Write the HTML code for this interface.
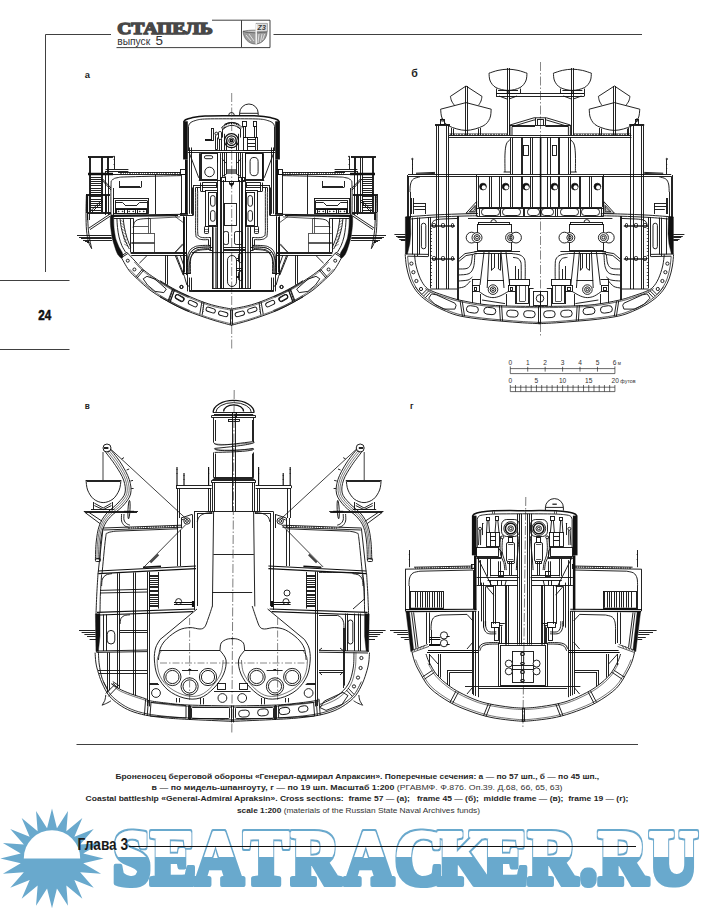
<!DOCTYPE html>
<html lang="ru">
<head>
<meta charset="utf-8">
<title>Стапель, выпуск 5 — Глава 3</title>
<style>
html,body{margin:0;padding:0;background:#fff;}
body{width:711px;height:911px;overflow:hidden;position:relative;font-family:'Liberation Sans','DejaVu Sans',sans-serif;}
svg{position:absolute;left:0;top:0;display:block;}
text{white-space:pre;}
</style>
</head>
<body>
<svg width="711" height="911" viewBox="0 0 711 911">
<rect width="711" height="911" fill="#fff"/>
<path d="M52 808.56L56.95 828.24L67.95 811L66.36 831.19L82.34 818.08L74.36 836.81L93.75 829.1L80.17 844.54L101.09 843L83.23 853.62L103.61 858.4L83.23 863.18L101.09 873.8L80.17 872.26L93.75 887.7L74.36 879.99L82.34 898.72L66.36 885.61L67.95 905.8L56.95 888.56L52 908.24L47.05 888.56L36.05 905.8L37.64 885.61L21.66 898.72L29.64 879.99L10.25 887.7L23.83 872.26L2.91 873.8L20.77 863.18L0.39 858.4L20.77 853.62L2.91 843L23.83 844.54L10.25 829.1L29.64 836.81L21.66 818.08L37.64 831.19L36.05 811L47.05 828.24Z" fill="#69a9cd"/>
<path d="M23.8 858.4A28.2 28.2 0 0 1 80.2 858.4Z" fill="#fff"/>
<defs><linearGradient id="wg" gradientUnits="userSpaceOnUse" x1="0" y1="828" x2="0" y2="887"><stop offset="0" stop-color="#fff"/><stop offset="0.49" stop-color="#fff"/><stop offset="0.49" stop-color="#69a9cd"/><stop offset="1" stop-color="#69a9cd"/></linearGradient></defs>
<filter id="wo" x="-2%" y="-20%" width="104%" height="140%"><feMorphology in="SourceAlpha" operator="dilate" radius="1.7 1.5" result="d"/><feFlood flood-color="#69a9cd"/><feComposite in2="d" operator="in" result="o"/><feMerge><feMergeNode in="o"/><feMergeNode in="SourceGraphic"/></feMerge></filter>
<text transform="scale(0.88 1)" x="128.51 171.42 220.96 277.04 330.91 391.7 448.8 497.51 548.92 600.22 659.02 680.17 737.72" y="882.6" font-family="'Liberation Serif','DejaVu Serif',serif" font-size="76.5" font-weight="bold" fill="url(#wg)" stroke="url(#wg)" stroke-width="4.2" stroke-linejoin="round" filter="url(#wo)">SEATRACKER.RU</text>
<g fill="none" stroke="#2a2a2a" stroke-width="0.9">
<path d="M45.5 272V34.5H111"/>
<path d="M273.5 34.5H642"/>
<path d="M0 280.5H69.5M0 349.5H69.5"/>
<path d="M76.5 744.5H638"/>
<path d="M212 20.2H241.5V47.6H270V20.2H241.5M116.5 47.6H241.5"/>
<path d="M129 846.5H636" stroke="#111" stroke-width="1"/>
</g>
<g stroke="#4a4a4a" stroke-width="0.6" fill="#9c9c9c"><path d="M243.1 31.3C243.4 38.5 248.5 44 255.4 44C262 44 266.8 38.8 267.1 31.5C262 33.2 249 33 243.1 31.3Z"/><path d="M243.1 31.3C249 29.6 262 30 267.1 31.5C262 33.2 249 33 243.1 31.3Z" fill="#c9c9c9"/><path d="M256 23.4L267.4 23.4L267.4 31.4L256 31.6Z" fill="#ddd" stroke="#777"/><path d="M256.2 24V44" stroke="#fff" stroke-width="1.3"/><path d="M246 35l5 6M249 34l5 7M259 34l-1 9M262 34l-1.5 8M264.6 34l-2 6" fill="none" stroke="#e6e6e6" stroke-width="0.9"/></g>
<text x="261.7" y="30.2" font-family="'Liberation Sans',sans-serif" font-size="7" font-weight="bold" font-style="italic" fill="#3a3a3a" text-anchor="middle">Z3</text>
<g fill="none" stroke="#2a2a2a" stroke-width="0.7">
<path d="M510.3 368.6H614.9M510.3 373.6H614.9"/>
<path d="M510.3 366.4V373.6M527.73 366.8V371.6M545.17 366.8V371.6M562.6 366.8V371.6M580.03 366.8V371.6M597.47 366.8V371.6M614.9 366.4V373.6"/>
<path d="M510.3 387.2H614.9M510.3 391.6H614.9"/>
<path d="M510.3 385V391.6M515.53 385V391.6M520.76 385V391.6M525.99 385V391.6M531.22 385V391.6M536.45 385V391.6M541.68 385V391.6M546.91 385V391.6M552.14 385V391.6M557.37 385V391.6M562.6 385V391.6M567.83 385V391.6M573.06 385V391.6M578.29 385V391.6M583.52 385V391.6M588.75 385V391.6M593.98 385V391.6M599.21 385V391.6M604.44 385V391.6M609.67 385V391.6M614.9 385V391.6"/>
</g>
<g font-family="'Liberation Sans','DejaVu Sans',sans-serif" font-size="6.6" fill="#333" text-anchor="middle">
<text x="510.3" y="364.6">0</text>
<text x="527.73" y="364.6">1</text>
<text x="545.17" y="364.6">2</text>
<text x="562.6" y="364.6">3</text>
<text x="580.03" y="364.6">4</text>
<text x="597.47" y="364.6">5</text>
<text x="612.7" y="364.6" text-anchor="start">6<tspan font-size="4.6"> м</tspan></text>
<text x="510.3" y="382.8">0</text>
<text x="536.45" y="382.8">5</text>
<text x="562.6" y="382.8">10</text>
<text x="588.75" y="382.8">15</text>
<text x="611.5" y="382.8" text-anchor="start">20<tspan font-size="5.4"> футов</tspan></text>
</g>
<!-- draw_a -->
<g fill="none" stroke="#101010" stroke-width="0.92" stroke-linecap="butt" stroke-linejoin="miter">
<path d="M231.7 93V350" stroke-width="0.5" stroke-dasharray="9 2 1.5 2"/>
<rect x="183.13" y="121.28" width="4.63" height="38.17" fill="#111" stroke="none"/>
<rect x="275.24" y="121.28" width="4.63" height="38.17" fill="#111" stroke="none"/>
<rect x="185.01" y="159.45" width="2.75" height="54.44" fill="#111" stroke="none"/>
<rect x="275.24" y="159.45" width="2.75" height="54.44" fill="#111" stroke="none"/>
<path d="M183.75 121.9C184.07 121.55 184.38 120.44 185.63 119.77C186.88 119.11 188.03 118.54 191.26 117.9C194.5 117.25 198.31 116.27 205.03 115.89C211.75 115.52 227.14 115.69 231.56 115.64" stroke-width="1.5" stroke="#111"/>
<path d="M279.25 121.9C278.93 121.55 278.62 120.44 277.37 119.77C276.12 119.11 274.97 118.54 271.74 117.9C268.5 117.25 264.69 116.27 257.97 115.89C251.25 115.52 235.86 115.69 231.44 115.64" stroke-width="1.5" stroke="#111"/>
<path d="M188.26 126.91C188.55 126.28 188.89 124.2 190.01 123.15C191.14 122.11 192.62 121.34 195.02 120.65C197.42 119.96 198.31 119.34 204.41 119.02C210.5 118.71 227.04 118.82 231.56 118.77"/>
<path d="M274.74 126.91C274.45 126.28 274.11 124.2 272.99 123.15C271.86 122.11 270.38 121.34 267.98 120.65C265.58 119.96 264.69 119.34 258.59 119.02C252.5 118.71 235.96 118.82 231.44 118.77"/>
<path d="M188.51 126.91 188.51 150.69"/>
<path d="M274.49 126.91 274.49 150.69"/>
<path d="M228.7 115.3a2.8 2.8 0 0 1 5.6 0"/>
<path d="M239.6 115.3v-2a9.3 9.3 0 0 1 18.6 0v2M239.6 113.3h18.6"/>
<path d="M187.76 150.5L275.12 150.5M187.76 152.5L275.12 152.5"/>
<circle cx="231.44" cy="140.68" r="7.01" stroke-width="1.15" fill="#fff"/>
<circle cx="231.44" cy="140.68" r="4.76" stroke-width="1.38"/>
<circle cx="231.44" cy="140.68" r="2.75"/>
<circle cx="231.44" cy="140.68" r="1.13" stroke-width="1.38"/>
<path d="M221.4 127.8A13.4 13.4 0 0 1 242.4 127.8M223.2 129.4A11.4 11.4 0 0 1 240.6 129.4M224.4 124.4A15 15 0 0 1 239 124.4" />
<path d="M222 128.5l1-1.2M224 126.6l.9-1.3M226.3 125.2l.7-1.4M228.8 124.3l.4-1.5M231.5 124v-1.5M234.2 124.3l-.4-1.5M236.7 125.2l-.7-1.4M239 126.6l-.9-1.3M241 128.5l-1-1.2" stroke-width="1"/>
<path d="M224.5 133.79L224.5 150.69M226.5 141.3L226.5 150.69M236.5 141.3L236.5 150.69M238.5 133.79L238.5 150.69M222.5 128.79L222.5 137.55M240.5 128.79L240.5 137.55M222.55 128.79L225.68 126.91M240.33 128.79L237.32 126.91"/>
<rect x="211.5" y="128.5" width="2" height="12"/>
<rect x="205.5" y="139.5" width="6" height="1" fill="#333"/>
<circle cx="216.3" cy="133.54" r="1.38"/>
<rect x="218.5" y="131.5" width="3" height="8" rx="1.25"/>
<path d="M215.5 135.29L215.5 149.44M217.5 137.55L217.5 149.44M215.29 149.5L217.55 149.5M219.5 139.05L219.5 150.69M221.5 139.05L221.5 150.69"/>
<rect x="242.5" y="121.5" width="4" height="5"/>
<rect x="243.5" y="126.5" width="2" height="11"/>
<rect x="253.5" y="121.5" width="3" height="5"/>
<rect x="254.5" y="126.5" width="2" height="11"/>
<rect x="243.5" y="137.5" width="14" height="13"/>
<path d="M247.58 139.5L255.09 139.5M247.58 143.5L255.09 143.5M247.58 146.5L255.09 146.5M247.5 137.55L247.5 150.69M255.5 137.55L255.5 150.69"/>
<path d="M189.39 153.19L198.77 177.85M199.5 153.19L199.5 180.1M200.5 153.19L200.5 180.1"/>
<path d="M273.61 153.19L264.23 177.85M263.5 153.19L263.5 180.1M262.5 153.19L262.5 180.1"/>
<rect x="201.5" y="153.5" width="16" height="26"/>
<rect x="204.41" y="155.69" width="8.26" height="3" rx="1.5"/>
<circle cx="209.54" cy="171.96" r="4.76"/>
<rect x="245.5" y="153.5" width="17" height="26"/>
<rect x="250.09" y="157.45" width="8.01" height="18.27" rx="4.01"/>
<path d="M217.5 153.19L217.5 162.58M220.5 153.19L220.5 180.1M245.5 153.19L245.5 162.58M242.5 153.19L242.5 180.1"/>
<path d="M222.5 152.57L222.5 176.6M224.5 152.57L224.5 176.6M226.5 152.57L226.5 174.09M240.5 152.57L240.5 176.6M238.5 152.57L238.5 176.6M236.5 152.57L236.5 174.09M222.05 158.82L226.06 163.2M240.95 158.82L236.95 163.2M222.05 176.6L226.43 174.09M240.95 176.6L236.57 174.09"/>
<path d="M226.43 169.5L236.57 169.5M226.43 170.5L236.57 170.5M226.43 171.5L236.57 171.5M226.43 172.5L236.57 172.5M226.43 173.5L236.57 173.5" stroke-width="0.57"/>
<rect x="220.5" y="177.5" width="5" height="4"/>
<rect x="238.5" y="177.5" width="6" height="4"/>
<path d="M225.5 176.35L225.5 181.98M238.5 176.35L238.5 181.98M225.81 181.5L238.57 181.5M229.5 181.98L229.5 184.11M233.5 181.98L233.5 184.11M229.44 184.5L233.57 184.5M230.69 184.11L231.56 186.36M232.44 184.11L231.56 186.36"/>
<path d="M198.77 180.5L220.05 180.5"/>
<path d="M264.23 180.5L242.95 180.5"/>
<path d="M189.5 147.46L189.5 213.79M191.5 147.46L191.5 213.79M192.5 187.51L192.5 215.04M193.5 185.01L193.5 215.04"/>
<path d="M273.5 147.46L273.5 213.79M271.5 147.46L271.5 213.79M270.5 187.51L270.5 215.04M269.5 185.01L269.5 215.04"/>
<path d="M180 213.5L187.76 213.5M180 215.5L193.52 215.5"/>
<path d="M283 213.5L275.24 213.5M283 215.5L269.48 215.5"/>
<path d="M195.64 192.52C195.64 198.36 195.62 207.91 195.64 217.55C195.67 227.18 195.33 229.09 195.77 233.82C196.21 238.55 196.09 236.48 197.52 237.82C198.95 239.17 199.33 239.17 201.9 239.57C204.47 239.98 206.99 239.57 208.54 239.57"/>
<path d="M267.36 192.52C267.36 198.36 267.38 207.91 267.36 217.55C267.33 227.18 267.67 229.09 267.23 233.82C266.79 238.55 266.91 236.48 265.48 237.82C264.05 239.17 263.67 239.17 261.1 239.57C258.53 239.98 256.01 239.57 254.46 239.57"/>
<path d="M197.65 191.01C197.65 197.2 197.62 207.71 197.65 217.55C197.68 227.39 197.45 228.87 197.77 233.19C198.09 237.51 197.91 235.05 199.02 236.07C200.13 237.09 200.31 237.22 202.53 237.57C204.75 237.92 207.13 237.57 208.54 237.57"/>
<path d="M265.35 191.01C265.35 197.2 265.38 207.71 265.35 217.55C265.32 227.39 265.55 228.87 265.23 233.19C264.91 237.51 265.09 235.05 263.98 236.07C262.87 237.09 262.69 237.22 260.47 237.57C258.25 237.92 255.87 237.57 254.46 237.57"/>
<path d="M195.5 192.52L195.5 187.51M197.5 191.01L197.5 187.51M193.52 185.5L217.55 185.5M195.64 187.5L200.65 187.5M200.5 182.5L200.5 191.26M202.5 182.5L202.5 191.26M200.65 191.5L205.66 191.5"/>
<path d="M267.5 192.52L267.5 187.51M265.5 191.01L265.5 187.51M269.48 185.5L245.45 185.5M267.36 187.5L262.35 187.5M262.5 182.5L262.5 191.26M260.5 182.5L260.5 191.26M262.35 191.5L257.34 191.5"/>
<path d="M202.28 182.5L216.92 182.5M202.28 187.5L216.92 187.5M216.5 182.5L216.5 187.76"/>
<path d="M260.72 182.5L246.08 182.5M260.72 187.5L246.08 187.5M246.5 182.5L246.5 187.76"/>
<rect x="205.5" y="190.5" width="12" height="36"/>
<rect x="245.5" y="190.5" width="12" height="36"/>
<rect x="208.5" y="192.5" width="8" height="33"/>
<rect x="246.5" y="192.5" width="8" height="33"/>
<rect x="210.54" y="195.52" width="4.51" height="10.76" rx="2.25"/>
<rect x="247.96" y="195.52" width="4.51" height="10.76" rx="2.25"/>
<rect x="210.54" y="210.54" width="4.51" height="10.76" rx="2.25"/>
<rect x="247.96" y="210.54" width="4.51" height="10.76" rx="2.25"/>
<rect x="204.5" y="226.5" width="4" height="7" rx="0.75"/>
<rect x="254.5" y="226.5" width="4" height="7" rx="0.75"/>
<path d="M204.41 229.5L208.29 229.5M204.41 231.5L208.29 231.5" stroke-width="0.57"/>
<path d="M258.59 229.5L254.71 229.5M258.59 231.5L254.71 231.5" stroke-width="0.57"/>
<path d="M208.54 237.5L210.66 237.5M208.5 239.57L208.5 245.08M210.5 237.57L210.5 250.09M208.54 245.5L210.66 245.5M209.41 250.5L212.79 250.5M209.41 247.5L212.79 247.5"/>
<path d="M254.46 237.5L252.34 237.5M254.5 239.57L254.5 245.08M252.5 237.57L252.5 250.09M254.46 245.5L252.34 245.5M253.59 250.5L250.21 250.5M253.59 247.5L250.21 247.5"/>
<path d="M217.5 180L217.5 288.89M220.5 177.5L220.5 288.89M221.5 177.5L221.5 288.89M223.5 180L223.5 288.89"/>
<path d="M245.5 180L245.5 288.89M242.5 177.5L242.5 288.89M241.5 177.5L241.5 288.89M239.5 180L239.5 288.89"/>
<path d="M212.5 227.31L212.5 288.39M213.5 227.31L213.5 288.39M215.5 227.31L215.5 288.39M216.5 227.31L216.5 288.39" stroke-width="0.57"/>
<path d="M247.5 227.31L247.5 288.39M248.5 227.31L248.5 288.39M250.5 227.31L250.5 288.39" stroke-width="0.57"/>
<path d="M212.5 226.93L212.5 288.89M250.5 226.93L250.5 288.89M212.29 288.5L250.84 288.5"/>
<rect x="224.5" y="203.5" width="12" height="22"/>
<rect x="223.5" y="231.5" width="5" height="13" rx="1.75"/>
<rect x="234.5" y="231.5" width="8" height="13" rx="1.75"/>
<path d="M223.8 247.5L245.33 247.5M223.8 249.5L245.33 249.5M223.8 250.5L245.33 250.5"/>
<path d="M191.89 252.59 271.11 252.59"/>
<path d="M192.52 290.89 271.11 290.89"/>
<path d="M229.44 181.5L233.82 181.5M229.44 183.5L233.82 183.5M230.69 183.13L231.56 186.26M232.44 183.13L231.56 186.26"/>
<rect x="227.5" y="255.5" width="9" height="31" rx="4.63"/>
<rect x="238.5" y="253.5" width="4" height="9" rx="1.75"/>
<rect x="238.5" y="271.5" width="4" height="9" rx="1.75"/>
<path d="M236.45 258.5L238.95 258.5M236.45 260.5L238.95 260.5M236.45 268.5L242.58 268.5M236.45 270.5L242.58 270.5M236.45 276.5L238.95 276.5M236.45 277.5L238.95 277.5"/>
<path d="M187.76 273.87C187.7 270.65 187.22 265.21 187.51 260.1C187.8 254.99 187.55 254.94 189.01 251.96C190.47 248.99 191.2 248.79 193.77 247.33C196.34 245.87 196.37 246.17 200.03 245.71C203.68 245.24 207.22 245.42 209.41 245.33"/>
<path d="M275.24 273.87C275.3 270.65 275.78 265.21 275.49 260.1C275.2 254.99 275.45 254.94 273.99 251.96C272.53 248.99 271.8 248.79 269.23 247.33C266.66 245.87 266.63 246.17 262.97 245.71C259.32 245.24 255.78 245.42 253.59 245.33"/>
<path d="M190.51 273.87C190.51 270.95 190.22 265.73 190.51 261.35C190.81 256.97 190.6 257.58 191.76 255.09C192.93 252.61 193.3 252.12 195.52 250.71C197.74 249.31 198.04 249.58 201.28 249.09C204.52 248.59 207.51 248.7 209.41 248.59"/>
<path d="M272.49 273.87C272.49 270.95 272.78 265.73 272.49 261.35C272.19 256.97 272.4 257.58 271.24 255.09C270.07 252.61 269.7 252.12 267.48 250.71C265.26 249.31 264.96 249.58 261.72 249.09C258.48 248.59 255.49 248.7 253.59 248.59"/>
<path d="M189.01 273.87C188.98 270.8 188.56 265.46 188.89 260.73C189.21 255.99 189.04 256.34 190.39 253.59C191.73 250.85 192.25 250.42 194.64 248.96C197.04 247.5 197.2 247.8 200.65 247.33C204.1 246.87 207.37 247.05 209.41 246.96" stroke-width="0.57"/>
<path d="M273.99 273.87C274.02 270.8 274.44 265.46 274.11 260.73C273.79 255.99 273.96 256.34 272.61 253.59C271.27 250.85 270.75 250.42 268.36 248.96C265.96 247.5 265.8 247.8 262.35 247.33C258.9 246.87 255.63 247.05 253.59 246.96" stroke-width="0.57"/>
<path d="M185.63 273.5L190.51 273.5M187.5 273.87L187.5 291.39"/>
<path d="M277.37 273.5L272.49 273.5M275.5 273.87L275.5 291.39"/>
<path d="M105.6 169.5L128.4 169.5M105.6 171.5L128.4 171.5M118 172.5L181 172.5M110 174.5L185 174.5M90 173.5L110 173.5"/>
<path d="M357.4 169.5L334.6 169.5M357.4 171.5L334.6 171.5M345 172.5L282 172.5M353 174.5L278 174.5M373 173.5L353 173.5"/>
<path d="M120.5 172.4L120.5 174.2M121.5 172.4L121.5 174.2M123.5 172.4L123.5 174.2M125.5 172.4L125.5 174.2M127.5 172.4L127.5 174.2M129.5 172.4L129.5 174.2M130.5 172.4L130.5 174.2M132.5 172.4L132.5 174.2M134.5 172.4L134.5 174.2M136.5 172.4L136.5 174.2M138.5 172.4L138.5 174.2M139.5 172.4L139.5 174.2M141.5 172.4L141.5 174.2M143.5 172.4L143.5 174.2M145.5 172.4L145.5 174.2M147.5 172.4L147.5 174.2M148.5 172.4L148.5 174.2M150.5 172.4L150.5 174.2M152.5 172.4L152.5 174.2M154.5 172.4L154.5 174.2M156.5 172.4L156.5 174.2M157.5 172.4L157.5 174.2M159.5 172.4L159.5 174.2M161.5 172.4L161.5 174.2M163.5 172.4L163.5 174.2M165.5 172.4L165.5 174.2M166.5 172.4L166.5 174.2M168.5 172.4L168.5 174.2M170.5 172.4L170.5 174.2M172.5 172.4L172.5 174.2M174.5 172.4L174.5 174.2M175.5 172.4L175.5 174.2M177.5 172.4L177.5 174.2M179.5 172.4L179.5 174.2" stroke-width="0.57"/>
<path d="M343.5 172.4L343.5 174.2M341.5 172.4L341.5 174.2M339.5 172.4L339.5 174.2M337.5 172.4L337.5 174.2M335.5 172.4L335.5 174.2M334.5 172.4L334.5 174.2M332.5 172.4L332.5 174.2M330.5 172.4L330.5 174.2M328.5 172.4L328.5 174.2M326.5 172.4L326.5 174.2M325.5 172.4L325.5 174.2M323.5 172.4L323.5 174.2M321.5 172.4L321.5 174.2M319.5 172.4L319.5 174.2M317.5 172.4L317.5 174.2M316.5 172.4L316.5 174.2M314.5 172.4L314.5 174.2M312.5 172.4L312.5 174.2M310.5 172.4L310.5 174.2M308.5 172.4L308.5 174.2M307.5 172.4L307.5 174.2M305.5 172.4L305.5 174.2M303.5 172.4L303.5 174.2M301.5 172.4L301.5 174.2M299.5 172.4L299.5 174.2M298.5 172.4L298.5 174.2M296.5 172.4L296.5 174.2M294.5 172.4L294.5 174.2M292.5 172.4L292.5 174.2M290.5 172.4L290.5 174.2M289.5 172.4L289.5 174.2M287.5 172.4L287.5 174.2M285.5 172.4L285.5 174.2M283.5 172.4L283.5 174.2" stroke-width="0.57"/>
<rect x="180.5" y="169.5" width="5" height="5"/>
<rect x="278.5" y="169.5" width="4" height="5"/>
<path d="M111 215C111 209.2 110.72 193 111 186C111.28 179 111 181.68 112.4 180C113.8 178.32 114.48 178.24 118 177.6C121.52 176.96 117.4 177.2 130 176.8C142.6 176.4 170.8 175.84 181 175.6"/>
<path d="M352 215C352 209.2 352.28 193 352 186C351.72 179 352 181.68 350.6 180C349.2 178.32 348.52 178.24 345 177.6C341.48 176.96 345.6 177.2 333 176.8C320.4 176.4 292.2 175.84 282 175.6"/>
<path d="M113.5 215L113.5 188"/>
<path d="M350.5 215L350.5 188"/>
<path d="M105.5 171L105.5 215M108.5 174.2L108.5 215M155.5 174.2L155.5 214.4M181.5 174.2L181.5 214.4"/>
<path d="M357.5 171L357.5 215M354.5 174.2L354.5 215M307.5 174.2L307.5 214.4M282.5 174.2L282.5 214.4"/>
<path d="M119.5 181L119.5 187.4M119 187.5L141 187.5M141.5 181L141.5 187.4M120 186.5L140 186.5"/>
<path d="M344.5 181L344.5 187.4M344 187.5L322 187.5M322.5 181L322.5 187.4M343 186.5L323 186.5"/>
<rect x="113.5" y="198.5" width="35" height="15"/>
<rect x="314.5" y="198.5" width="35" height="15"/>
<path d="M115.2 200.5L147.2 200.5M115.5 200.6L115.5 213.6M147.5 200.6L147.5 213.6M115.2 202.5L122.4 202.5M122.4 202.4L125 205M125 205.5L137 205.5M137 205L139.6 202.4M139.6 202.5L147.2 202.5M115.2 208.5L147.2 208.5M115.2 209.5L147.2 209.5"/>
<path d="M347.8 200.5L315.8 200.5M347.5 200.6L347.5 213.6M315.5 200.6L315.5 213.6M347.8 202.5L340.6 202.5M340.6 202.4L338 205M338 205.5L326 205.5M326 205L323.4 202.4M323.4 202.5L315.8 202.5M347.8 208.5L315.8 208.5M347.8 209.5L315.8 209.5"/>
<rect x="116.5" y="209.5" width="8" height="4"/>
<rect x="338.5" y="209.5" width="8" height="4"/>
<circle cx="118.6" cy="211.4" r="0.4" fill="#111"/>
<circle cx="344.4" cy="211.4" r="0.4" fill="#111"/>
<circle cx="122.6" cy="211.4" r="0.4" fill="#111"/>
<circle cx="340.4" cy="211.4" r="0.4" fill="#111"/>
<rect x="127.5" y="209.5" width="8" height="4"/>
<rect x="327.5" y="209.5" width="9" height="4"/>
<circle cx="129.2" cy="211.4" r="0.4" fill="#111"/>
<circle cx="333.8" cy="211.4" r="0.4" fill="#111"/>
<circle cx="133.2" cy="211.4" r="0.4" fill="#111"/>
<circle cx="329.8" cy="211.4" r="0.4" fill="#111"/>
<rect x="137.5" y="209.5" width="9" height="4"/>
<rect x="317.5" y="209.5" width="8" height="4"/>
<circle cx="139.8" cy="211.4" r="0.4" fill="#111"/>
<circle cx="323.2" cy="211.4" r="0.4" fill="#111"/>
<circle cx="143.8" cy="211.4" r="0.4" fill="#111"/>
<circle cx="319.2" cy="211.4" r="0.4" fill="#111"/>
<path d="M111 215.2L188 214.2M111 216.4L178 215.6" stroke-width="1.15"/>
<path d="M352 215.2L275 214.2M352 216.4L285 215.6" stroke-width="1.15"/>
<rect x="88.5" y="156.5" width="24" height="1"/>
<rect x="351.5" y="156.5" width="24" height="1"/>
<path d="M89.5 157.4L89.5 212M90.5 157.4L90.5 212M101.5 157.4L101.5 212M102.5 157.4L102.5 212M107.5 157.4L107.5 174.4M108.5 157.4L108.5 174.4"/>
<path d="M373.5 157.4L373.5 212M372.5 157.4L372.5 212M362.5 157.4L362.5 212M360.5 157.4L360.5 212M355.5 157.4L355.5 174.4M354.5 157.4L354.5 174.4"/>
<path d="M88 173.5L113 173.5M88 174.5L113 174.5" stroke-width="1.26"/>
<path d="M375 173.5L350 173.5M375 174.5L350 174.5" stroke-width="1.26"/>
<path d="M90.6 177.5L101 177.5M90.6 179.5L101 179.5M90.6 181.5L101 181.5M90.6 183.5L101 183.5M90.6 185.5L101 185.5M90.6 188.5L101 188.5M90.6 190.5L101 190.5M90.6 192.5L101 192.5M90.6 194.5L101 194.5M90.6 196.5L101 196.5M90.6 199.5L101 199.5M90.6 201.5L101 201.5M90.6 203.5L101 203.5M90.6 205.5L101 205.5M90.6 207.5L101 207.5M90.6 210.5L101 210.5"/>
<path d="M372.4 177.5L362 177.5M372.4 179.5L362 179.5M372.4 181.5L362 181.5M372.4 183.5L362 183.5M372.4 185.5L362 185.5M372.4 188.5L362 188.5M372.4 190.5L362 190.5M372.4 192.5L362 192.5M372.4 194.5L362 194.5M372.4 196.5L362 196.5M372.4 199.5L362 199.5M372.4 201.5L362 201.5M372.4 203.5L362 203.5M372.4 205.5L362 205.5M372.4 207.5L362 207.5M372.4 210.5L362 210.5"/>
<path d="M101 179L111 190M102.6 179L111 188M86 194.5L110 194.5M86 195.5L110 195.5M86.5 194L86.5 212M87.5 195.6L87.5 212M105.5 195.6L105.5 212M106.5 195.6L106.5 212M90.6 211L102 200M92 212L103 201M86 212.5L111 212.5M87.6 213.5L111 213.5"/>
<path d="M362 179L352 190M360.4 179L352 188M377 194.5L353 194.5M377 195.5L353 195.5M377.5 194L377.5 212M375.5 195.6L375.5 212M358.5 195.6L358.5 212M356.5 195.6L356.5 212M372.4 211L361 200M371 212L360 201M377 212.5L352 212.5M375.4 213.5L352 213.5"/>
<path d="M114.5 156.6L114.5 169M113.6 159.5L114.4 159.5M113.6 164.5L114.4 164.5"/>
<path d="M349.5 156.6L349.5 169M349.4 159.5L348.6 159.5M349.4 164.5L348.6 164.5"/>
<circle cx="114" cy="156.6" r="0.5"/>
<circle cx="349" cy="156.6" r="0.5"/>
<path d="M87.5 213.4L87.5 220M89.5 213.4L89.5 220M111 213.4L89 228M111 215.6L90 229.6"/>
<path d="M375.5 213.4L375.5 220M374.5 213.4L374.5 220M352 213.4L374 228M352 215.6L373 229.6"/>
<path d="M86.39 195.06C86.33 198.19 85.99 208 86.01 213.84C86.03 219.68 86.1 225.41 86.51 230.11C86.93 234.8 87.66 238.91 88.52 242C89.37 245.08 91.12 247.52 91.65 248.63"/>
<path d="M376.61 195.06C376.67 198.19 377.01 208 376.99 213.84C376.97 219.68 376.9 225.41 376.49 230.11C376.07 234.8 375.34 238.91 374.48 242C373.63 245.08 371.88 247.52 371.35 248.63"/>
<path d="M87.64 195.06C87.64 198.4 87.52 209.25 87.64 215.09C87.77 220.93 88.02 225.93 88.39 230.11C88.77 234.28 89.35 237.03 89.89 240.12C90.44 243.21 91.35 247.21 91.65 248.63"/>
<path d="M375.36 195.06C375.36 198.4 375.48 209.25 375.36 215.09C375.23 220.93 374.98 225.93 374.61 230.11C374.23 234.28 373.65 237.03 373.11 240.12C372.56 243.21 371.65 247.21 371.35 248.63"/>
<path d="M77 235.5L111.6 235.5M79 237.5L111.6 237.5M81 238.5L111.8 238.5M83 240.5L112 240.5"/>
<path d="M386 235.5L351.4 235.5M384 237.5L351.4 237.5M382 238.5L351.2 238.5M380 240.5L351 240.5"/>
<path d="M85 241.5L89 241.5M87 242.5L89.6 242.5"/>
<path d="M378 241.5L374 241.5M376 242.5L373.4 242.5"/>
<path d="M110.26 216.51C110.46 220.12 110.01 222.59 111.01 230.03C112.02 237.47 111.78 237.35 114.02 244.42C116.25 251.5 117.06 253.86 119.4 256.56C121.74 259.27 123.21 257.9 122.78 254.56C122.34 251.22 119.94 249.92 117.77 244.05C115.6 238.17 115.74 239.88 114.64 232.53C113.54 225.19 113.91 220.79 113.64 216.51Z" stroke-width="0.46" fill="#111" stroke="#111"/>
<path d="M352.74 216.51C352.54 220.12 352.99 222.59 351.99 230.03C350.98 237.47 351.22 237.35 348.98 244.42C346.75 251.5 345.94 253.86 343.6 256.56C341.26 259.27 339.79 257.9 340.22 254.56C340.66 251.22 343.06 249.92 345.23 244.05C347.4 238.17 347.26 239.88 348.36 232.53C349.46 225.19 349.09 220.79 349.36 216.51Z" stroke-width="0.46" fill="#111" stroke="#111"/>
<path d="M120.65 256.31C122.01 258.61 125.97 266.28 128.79 270.08C131.6 273.88 134 275.76 137.55 279.09C141.09 282.43 145.89 286.91 150.06 290.11C154.23 293.3 158.41 295.74 162.58 298.24C166.75 300.74 170.69 302.93 175.09 305.13C179.5 307.32 186.67 310.34 188.99 311.38"/>
<path d="M342.35 256.31C340.99 258.61 337.03 266.28 334.21 270.08C331.4 273.88 329 275.76 325.45 279.09C321.91 282.43 317.11 286.91 312.94 290.11C308.77 293.3 304.59 295.74 300.42 298.24C296.25 300.74 292.31 302.93 287.91 305.13C283.5 307.32 276.33 310.34 274.01 311.38"/>
<path d="M129.66 269.21C131.12 270.71 134.88 274.88 138.42 278.22C141.97 281.55 146.77 286.04 150.94 289.23C155.11 292.42 159.28 294.86 163.45 297.37C167.63 299.87 171.57 302.06 175.97 304.25C180.37 306.44 187.55 309.46 189.86 310.51" stroke-width="0.57"/>
<path d="M333.34 269.21C331.88 270.71 328.12 274.88 324.58 278.22C321.03 281.55 316.23 286.04 312.06 289.23C307.89 292.42 303.72 294.86 299.55 297.37C295.37 299.87 291.43 302.06 287.03 304.25C282.63 306.44 275.45 309.46 273.14 310.51" stroke-width="0.57"/>
<path d="M126.91 252.31C128.26 253.77 132.23 258.11 135.04 261.07C137.86 264.03 140.26 267.08 143.8 270.08C147.35 273.09 151.52 275.96 156.32 279.09C161.12 282.22 167.15 285.93 172.59 288.85C178.04 291.78 186.25 295.32 188.99 296.61"/>
<path d="M336.09 252.31C334.74 253.77 330.77 258.11 327.96 261.07C325.14 264.03 322.74 267.08 319.2 270.08C315.65 273.09 311.48 275.96 306.68 279.09C301.88 282.22 295.85 285.93 290.41 288.85C284.96 291.78 276.75 295.32 274.01 296.61"/>
<path d="M134.29 261.95C135.75 263.45 139.51 267.95 143.05 270.96C146.6 273.96 150.77 276.84 155.57 279.97C160.37 283.1 166.4 286.81 171.84 289.73C177.28 292.65 185.5 296.2 188.24 297.49" stroke-width="0.57"/>
<path d="M328.71 261.95C327.25 263.45 323.49 267.95 319.95 270.96C316.4 273.96 312.23 276.84 307.43 279.97C302.63 283.1 296.6 286.81 291.16 289.73C285.72 292.65 277.5 296.2 274.76 297.49" stroke-width="0.57"/>
<path d="M120.65 256.31L126.91 252.31M121.53 257.57L127.78 253.56M143.8 270.08L136.92 278.22M142.55 269.08L135.67 277.09M172.59 288.85L168.21 300.37M174.47 289.86L170.09 301.12"/>
<path d="M342.35 256.31L336.09 252.31M341.47 257.57L335.22 253.56M319.2 270.08L326.08 278.22M320.45 269.08L327.33 277.09M290.41 288.85L294.79 300.37M288.53 289.86L292.91 301.12"/>
<circle cx="127.78" cy="260.69" r="1.5"/>
<circle cx="335.22" cy="260.69" r="1.5"/>
<circle cx="134.42" cy="269.46" r="1.5"/>
<circle cx="328.58" cy="269.46" r="1.5"/>
<path d="M143.18 278.84 146.93 276.34 155.07 279.09 166.33 289.11 163.83 292.61 155.07 291.36 147.56 285.1Z"/>
<path d="M319.82 278.84 316.07 276.34 307.93 279.09 296.67 289.11 299.17 292.61 307.93 291.36 315.44 285.1Z"/>
<rect x="174.97" y="296.11" width="9.01" height="4.26" rx="2.13" transform="rotate(30 179.47 298.24)"/>
<rect x="279.02" y="296.11" width="9.01" height="4.26" rx="2.13" transform="rotate(-30 283.53 298.24)"/>
<circle cx="181.35" cy="286.98" r="1.5"/>
<circle cx="281.65" cy="286.98" r="1.5"/>
<path d="M116.9 218.14C117 219.71 117.17 224.4 117.52 227.53C117.88 230.66 118.29 233.89 119.02 236.91C119.75 239.94 120.8 243.11 121.9 245.68C123.01 248.24 125.03 251.2 125.66 252.31"/>
<path d="M346.1 218.14C346 219.71 345.83 224.4 345.48 227.53C345.12 230.66 344.71 233.89 343.98 236.91C343.25 239.94 342.2 243.11 341.1 245.68C339.99 248.24 337.97 251.2 337.34 252.31"/>
<path d="M120.03 218.14C120.23 219.71 120.55 224.09 121.28 227.53C122.01 230.97 123.05 235.2 124.41 238.79C125.76 242.38 128.58 247.34 129.41 249.06"/>
<path d="M342.97 218.14C342.77 219.71 342.45 224.09 341.72 227.53C340.99 230.97 339.95 235.2 338.59 238.79C337.24 242.38 334.42 247.34 333.59 249.06"/>
<path d="M123.15 218.14C123.36 219.71 123.78 224.29 124.41 227.53C125.03 230.76 125.87 234.2 126.91 237.54C127.95 240.88 130.04 245.88 130.66 247.55"/>
<path d="M339.85 218.14C339.64 219.71 339.22 224.29 338.59 227.53C337.97 230.76 337.13 234.2 336.09 237.54C335.05 240.88 332.96 245.88 332.34 247.55"/>
<path d="M120.53 220.02L123.65 222.27M120.98 223.02L124.21 225.28M121.43 226.03L124.76 228.28M121.88 229.03L125.31 231.28M122.33 232.03L125.86 234.29M122.78 235.04L126.41 237.29M123.23 238.04L126.96 240.29M123.68 241.05L127.51 243.3M124.13 244.05L128.06 246.3" stroke-width="0.46"/>
<path d="M342.47 220.02L339.35 222.27M342.02 223.02L338.79 225.28M341.57 226.03L338.24 228.28M341.12 229.03L337.69 231.28M340.67 232.03L337.14 234.29M340.22 235.04L336.59 237.29M339.77 238.04L336.04 240.29M339.32 241.05L335.49 243.3M338.87 244.05L334.94 246.3" stroke-width="0.46"/>
<path d="M113.77 218.5L133.17 218.5M130.5 218.14L130.5 252.31M133.5 218.14L133.5 252.31"/>
<path d="M349.23 218.5L329.83 218.5M332.5 218.14L332.5 252.31M329.5 218.14L329.5 252.31"/>
<path d="M130.66 252.5L186.36 252.5M130.66 253.5L186.36 253.5M131.29 255.5L186.36 255.5"/>
<path d="M332.34 252.5L276.64 252.5M332.34 253.5L276.64 253.5M331.71 255.5L276.64 255.5"/>
<path d="M146.93 255.69L139.42 263.2M175.09 255.06L183.23 275.09M180.1 255.06L184.48 267.58"/>
<path d="M316.07 255.69L323.58 263.2M287.91 255.06L279.77 275.09M282.9 255.06L278.52 267.58"/>
<path d="M133.17 227.78C133.38 226.9 133.69 223.86 134.42 222.52C135.15 221.19 136.09 220.39 137.55 219.77C139.01 219.14 141.09 218.98 143.18 218.77C145.26 218.56 148.92 218.56 150.06 218.52"/>
<path d="M329.83 227.78C329.62 226.9 329.31 223.86 328.58 222.52C327.85 221.19 326.91 220.39 325.45 219.77C323.99 219.14 321.91 218.98 319.82 218.77C317.74 218.56 314.08 218.56 312.94 218.52"/>
<path d="M150.06 218.52L180.1 216.89M148.5 217.52L148.5 233.16M150.5 218.52L150.5 233.16M133.17 226.5L148.19 226.5M131.29 233.5L154.44 233.5M131.29 242.5L154.44 242.5M131.29 243.5L154.44 243.5M154.5 233.16L154.5 252.31M175.09 216.51L183.23 222.52M182.6 243.8L175.09 252.31" stroke-width="0.69"/>
<path d="M312.94 218.52L282.9 216.89M314.5 217.52L314.5 233.16M312.5 218.52L312.5 233.16M329.83 226.5L314.81 226.5M331.71 233.5L308.56 233.5M331.71 242.5L308.56 242.5M331.71 243.5L308.56 243.5M308.5 233.16L308.5 252.31M287.91 216.51L279.77 222.52M280.4 243.8L287.91 252.31" stroke-width="0.69"/>
<path d="M183.5 216.89L183.5 275.09M186.5 216.89L186.5 275.09M184.5 216.89L184.5 272.58"/>
<path d="M279.5 216.89L279.5 275.09M276.5 216.89L276.5 275.09M278.5 216.89L278.5 272.58"/>
<path d="M160 296.95C162.09 298.09 168.34 301.64 172.52 303.83C176.69 306.02 180.44 308.11 185.03 310.09C189.62 312.07 195.04 313.95 200.05 315.72C205.06 317.49 209.77 319.12 215.07 320.73C220.37 322.33 229.04 324.58 231.84 325.36"/>
<path d="M303 296.95C300.91 298.09 294.66 301.64 290.48 303.83C286.31 306.02 282.56 308.11 277.97 310.09C273.38 312.07 267.96 313.95 262.95 315.72C257.94 317.49 253.23 319.12 247.93 320.73C242.63 322.33 233.96 324.58 231.16 325.36"/>
<path d="M160 295.82C162.09 296.97 168.34 300.51 172.52 302.7C176.69 304.89 180.44 306.98 185.03 308.96C189.62 310.94 195.04 312.82 200.05 314.59C205.06 316.37 209.77 318.04 215.07 319.6C220.37 321.16 229.04 323.25 231.84 323.98" stroke-width="0.57"/>
<path d="M303 295.82C300.91 296.97 294.66 300.51 290.48 302.7C286.31 304.89 282.56 306.98 277.97 308.96C273.38 310.94 267.96 312.82 262.95 314.59C257.94 316.37 253.23 318.04 247.93 319.6C242.63 321.16 233.96 323.25 231.16 323.98" stroke-width="0.57"/>
<path d="M160 280.68C162.09 281.93 168.34 285.89 172.52 288.19C176.69 290.48 180.23 292.25 185.03 294.44C189.83 296.63 196.3 299.45 201.3 301.33C206.31 303.2 209.98 304.41 215.07 305.71C220.16 307 229.04 308.52 231.84 309.09"/>
<path d="M303 280.68C300.91 281.93 294.66 285.89 290.48 288.19C286.31 290.48 282.77 292.25 277.97 294.44C273.17 296.63 266.7 299.45 261.7 301.33C256.69 303.2 253.02 304.41 247.93 305.71C242.84 307 233.96 308.52 231.16 309.09"/>
<path d="M160 281.93C162.09 283.18 168.34 287.14 172.52 289.44C176.69 291.73 180.23 293.5 185.03 295.69C189.83 297.88 196.3 300.7 201.3 302.58C206.31 304.46 209.98 305.67 215.07 306.96C220.16 308.25 229.04 309.77 231.84 310.34" stroke-width="0.57"/>
<path d="M303 281.93C300.91 283.18 294.66 287.14 290.48 289.44C286.31 291.73 282.77 293.5 277.97 295.69C273.17 297.88 266.7 300.7 261.7 302.58C256.69 304.46 253.02 305.67 247.93 306.96C242.84 308.25 233.96 309.77 231.16 310.34" stroke-width="0.57"/>
<path d="M173.14 289.06L168.76 301.33M174.64 289.81L170.26 302.08M201.93 301.58L199.8 314.09M204.06 302.33L202.18 314.84M230.5 309.46L230.5 324.86"/>
<path d="M289.86 289.06L294.24 301.33M288.36 289.81L292.74 302.08M261.07 301.58L263.2 314.09M258.94 302.33L260.82 314.84M232.5 309.46L232.5 324.86"/>
<path d="M202.55 303.2L203.8 302.33M202.55 305.46L203.8 304.58M202.55 307.71L203.8 306.83M202.55 309.96L203.8 309.09M202.55 312.22L203.8 311.34" stroke-width="0.57"/>
<path d="M260.45 303.2L259.2 302.33M260.45 305.46L259.2 304.58M260.45 307.71L259.2 306.83M260.45 309.96L259.2 309.09M260.45 312.22L259.2 311.34" stroke-width="0.57"/>
<rect x="175.02" y="295.69" width="9.51" height="4.26" rx="2.13" transform="rotate(28 179.77 297.82)"/>
<rect x="278.47" y="295.69" width="9.51" height="4.26" rx="2.13" transform="rotate(-28 283.23 297.82)"/>
<rect x="188.04" y="301.45" width="9.51" height="4.26" rx="2.13" transform="rotate(25 192.79 303.58)"/>
<rect x="265.45" y="301.45" width="9.51" height="4.26" rx="2.13" transform="rotate(-25 270.21 303.58)"/>
<rect x="205.93" y="307.96" width="9.51" height="4.26" rx="2.13" transform="rotate(18 210.69 310.09)"/>
<rect x="247.56" y="307.96" width="9.51" height="4.26" rx="2.13" transform="rotate(-18 252.31 310.09)"/>
<rect x="218.45" y="311.71" width="9.51" height="4.26" rx="2.13" transform="rotate(15 223.2 313.84)"/>
<rect x="235.04" y="311.71" width="9.51" height="4.26" rx="2.13" transform="rotate(-15 239.8 313.84)"/>
<circle cx="181.53" cy="286.93" r="1.63"/>
<circle cx="281.47" cy="286.93" r="1.63"/>
<path d="M189.41 290.5L231.84 290.5M189.41 291.5L231.84 291.5M189.5 277.55L189.5 291.56M191.5 277.55L191.5 290.06"/>
<path d="M273.59 290.5L231.16 290.5M273.59 291.5L231.16 291.5M273.5 277.55L273.5 291.56M271.5 277.55L271.5 290.06"/>
<path d="M183.5 216.22L183.5 273.79M186.5 216.22L186.5 273.79M183.78 273.5L186.53 273.5M165.5 255.02L165.5 283.8M167.5 255.02L167.5 284.81M175.02 252.52L183.78 243.75M176.27 255.02L184.41 276.3M184.41 276.3L186.91 285.06M186.91 285.06L189.41 286.56"/>
<path d="M279.5 216.22L279.5 273.79M276.5 216.22L276.5 273.79M279.22 273.5L276.47 273.5M297.5 255.02L297.5 283.8M295.5 255.02L295.5 284.81M287.98 252.52L279.22 243.75M286.73 255.02L278.59 276.3M278.59 276.3L276.09 285.06M276.09 285.06L273.59 286.56"/>
<path d="M186.91 273.79C187.01 271.91 187.01 265.87 187.53 262.53C188.06 259.19 188.58 256.17 190.04 253.77C191.5 251.37 192.96 249.28 196.3 248.14C199.63 246.99 207.77 247.09 210.06 246.88"/>
<path d="M276.09 273.79C275.99 271.91 275.99 265.87 275.47 262.53C274.94 259.19 274.42 256.17 272.96 253.77C271.5 251.37 270.04 249.28 266.7 248.14C263.37 246.99 255.23 247.09 252.94 246.88"/>
<path d="M189.04 273.79C189.12 272.02 189.06 266.18 189.54 263.15C190.02 260.13 190.58 257.73 191.91 255.64C193.25 253.56 194.52 251.68 197.55 250.64C200.57 249.6 207.98 249.6 210.06 249.39"/>
<path d="M273.96 273.79C273.88 272.02 273.94 266.18 273.46 263.15C272.98 260.13 272.42 257.73 271.09 255.64C269.75 253.56 268.48 251.68 265.45 250.64C262.43 249.6 255.02 249.6 252.94 249.39"/>
</g>
<!-- draw_b -->
<g fill="none" stroke="#101010" stroke-width="0.92" stroke-linecap="butt" stroke-linejoin="miter">
<path d="M540.5 62V337" stroke-width="0.5" stroke-dasharray="9 2 1.5 2"/>
<path d="M489 73.2C489.2 74.5 489.03 78.6 490.2 81C491.37 83.4 493.03 86.03 496 87.6C498.97 89.17 504 90.4 508 90.4C512 90.4 517.03 89.17 520 87.6C522.97 86.03 524.63 83.4 525.8 81C526.97 78.6 526.8 74.5 527 73.2"/>
<path d="M591.4 73.2C591.2 74.5 591.37 78.6 590.2 81C589.03 83.4 587.37 86.03 584.4 87.6C581.43 89.17 576.4 90.4 572.4 90.4C568.4 90.4 563.37 89.17 560.4 87.6C557.43 86.03 555.77 83.4 554.6 81C553.43 78.6 553.6 74.5 553.4 73.2"/>
<path d="M489 73.2C490.5 72.73 494.83 71.07 498 70.4C501.17 69.73 504.67 69.2 508 69.2C511.33 69.2 514.83 69.73 518 70.4C521.17 71.07 525.5 72.73 527 73.2"/>
<path d="M591.4 73.2C589.9 72.73 585.57 71.07 582.4 70.4C579.23 69.73 575.73 69.2 572.4 69.2C569.07 69.2 565.57 69.73 562.4 70.4C559.23 71.07 554.9 72.73 553.4 73.2"/>
<path d="M507.5 68L507.5 135M509.5 68L509.5 135"/>
<path d="M573.5 68L573.5 135M571.5 68L571.5 135"/>
<path d="M496.5 88.6L496.5 93M520.5 88.6L520.5 93M496 93.5L520 93.5M498 90.5L518 90.5"/>
<path d="M584.5 88.6L584.5 93M560.5 88.6L560.5 93M584.4 93.5L560.4 93.5M582.4 90.5L562.4 90.5"/>
<path d="M496 93.5L540.2 93.5M496 96.5L540.2 96.5M499 96L507 99M517 96L509 99M496.5 93.2L496.5 96"/>
<path d="M584.4 93.5L540.2 93.5M584.4 96.5L540.2 96.5M581.4 96L573.4 99M563.4 96L571.4 99M584.5 93.2L584.5 96"/>
<circle cx="508" cy="92" r="1"/>
<circle cx="572.4" cy="92" r="1"/>
<path d="M450.4 96.4C450.6 97.17 450.9 99.47 451.6 101C452.3 102.53 454.1 104.83 454.6 105.6"/>
<path d="M630 96.4C629.8 97.17 629.5 99.47 628.8 101C628.1 102.53 626.3 104.83 625.8 105.6"/>
<path d="M482 96.4C481.83 97.17 481.57 99.53 481 101C480.43 102.47 479 104.5 478.6 105.2"/>
<path d="M598.4 96.4C598.57 97.17 598.83 99.53 599.4 101C599.97 102.47 601.4 104.5 601.8 105.2"/>
<path d="M450.4 96.4 466 86 482 96.4"/>
<path d="M630 96.4 614.4 86 598.4 96.4"/>
<path d="M440.6 109.2C440.87 110.73 440.8 115.6 442.2 118.4C443.6 121.2 445.03 124 449 126C452.97 128 460.33 130.4 466 130.4C471.67 130.4 479.03 128 483 126C486.97 124 488.43 121.2 489.8 118.4C491.17 115.6 490.97 110.73 491.2 109.2"/>
<path d="M639.8 109.2C639.53 110.73 639.6 115.6 638.2 118.4C636.8 121.2 635.37 124 631.4 126C627.43 128 620.07 130.4 614.4 130.4C608.73 130.4 601.37 128 597.4 126C593.43 124 591.97 121.2 590.6 118.4C589.23 115.6 589.43 110.73 589.2 109.2"/>
<path d="M440.6 109.2 466 102.6 491.2 109.2"/>
<path d="M639.8 109.2 614.4 102.6 589.2 109.2"/>
<path d="M465.5 86L465.5 135M467.5 86L467.5 135M451.5 128L451.5 135M453.5 128.6L453.5 135M478.5 128.6L478.5 135M480.5 128L480.5 135"/>
<path d="M615.5 86L615.5 135M613.5 86L613.5 135M628.5 128L628.5 135M627.5 128.6L627.5 135M601.5 128.6L601.5 135M599.5 128L599.5 135"/>
<path d="M436.5 125.6L436.5 289M438.5 125.6L438.5 289M446.5 125.6L446.5 289M448.5 125.6L448.5 289M435 124.5L450 124.5M435 125.5L450 125.5"/>
<path d="M643.5 125.6L643.5 289M641.5 125.6L641.5 289M633.5 125.6L633.5 289M630.5 125.6L630.5 289M644.2 124.5L629.2 124.5M644.2 125.5L629.2 125.5"/>
<rect x="440.5" y="119.5" width="4" height="5"/>
<rect x="635.5" y="119.5" width="3" height="5"/>
<circle cx="442.2" cy="120" r="1.2"/>
<circle cx="637" cy="120" r="1.2"/>
<path d="M449 135.5L540.2 135.5M449 137.5L540.2 137.5"/>
<path d="M631.4 135.5L540.2 135.5M631.4 137.5L540.2 137.5"/>
<path d="M450.5 133.8L450.5 135.2M451.5 133.8L451.5 135.2M453.5 133.8L453.5 135.2M454.5 133.8L454.5 135.2M456.5 133.8L456.5 135.2M458.5 133.8L458.5 135.2M459.5 133.8L459.5 135.2M461.5 133.8L461.5 135.2M462.5 133.8L462.5 135.2M464.5 133.8L464.5 135.2M466.5 133.8L466.5 135.2M467.5 133.8L467.5 135.2M469.5 133.8L469.5 135.2M470.5 133.8L470.5 135.2M472.5 133.8L472.5 135.2M474.5 133.8L474.5 135.2M475.5 133.8L475.5 135.2M477.5 133.8L477.5 135.2M478.5 133.8L478.5 135.2M480.5 133.8L480.5 135.2M482.5 133.8L482.5 135.2M483.5 133.8L483.5 135.2M485.5 133.8L485.5 135.2M486.5 133.8L486.5 135.2M488.5 133.8L488.5 135.2M490.5 133.8L490.5 135.2M491.5 133.8L491.5 135.2M493.5 133.8L493.5 135.2M494.5 133.8L494.5 135.2M496.5 133.8L496.5 135.2M498.5 133.8L498.5 135.2M499.5 133.8L499.5 135.2M501.5 133.8L501.5 135.2M502.5 133.8L502.5 135.2M504.5 133.8L504.5 135.2M506.5 133.8L506.5 135.2" stroke-width="0.57"/>
<path d="M630.5 133.8L630.5 135.2M628.5 133.8L628.5 135.2M627.5 133.8L627.5 135.2M625.5 133.8L625.5 135.2M624.5 133.8L624.5 135.2M622.5 133.8L622.5 135.2M620.5 133.8L620.5 135.2M619.5 133.8L619.5 135.2M617.5 133.8L617.5 135.2M616.5 133.8L616.5 135.2M614.5 133.8L614.5 135.2M612.5 133.8L612.5 135.2M611.5 133.8L611.5 135.2M609.5 133.8L609.5 135.2M608.5 133.8L608.5 135.2M606.5 133.8L606.5 135.2M604.5 133.8L604.5 135.2M603.5 133.8L603.5 135.2M601.5 133.8L601.5 135.2M600.5 133.8L600.5 135.2M598.5 133.8L598.5 135.2M596.5 133.8L596.5 135.2M595.5 133.8L595.5 135.2M593.5 133.8L593.5 135.2M592.5 133.8L592.5 135.2M590.5 133.8L590.5 135.2M588.5 133.8L588.5 135.2M587.5 133.8L587.5 135.2M585.5 133.8L585.5 135.2M584.5 133.8L584.5 135.2M582.5 133.8L582.5 135.2M580.5 133.8L580.5 135.2M579.5 133.8L579.5 135.2M577.5 133.8L577.5 135.2M576.5 133.8L576.5 135.2M574.5 133.8L574.5 135.2" stroke-width="0.57"/>
<path d="M449.4 133.8 507 133.8" stroke-width="0.57"/>
<path d="M631 133.8 573.4 133.8" stroke-width="0.57"/>
<path d="M408 174.5L540.2 174.5M408 176.5L540.2 176.5"/>
<path d="M671.2 174.5L539 174.5M671.2 176.5L539 176.5"/>
<path d="M410 192C410.1 190.67 410.03 186.17 410.6 184C411.17 181.83 411.83 180.2 413.4 179C414.97 177.8 418.9 177.17 420 176.8"/>
<path d="M669.2 192C669.1 190.67 669.17 186.17 668.6 184C668.03 181.83 667.37 180.2 665.8 179C664.23 177.8 660.3 177.17 659.2 176.8"/>
<path d="M407.5 175L407.5 218M408.5 176.2L408.5 218M410.5 192L410.5 218M412.5 159.4L412.5 174.2M416 173.2L435 172.4M416 174.2L435 173.4"/>
<path d="M672.5 175L672.5 218M671.5 176.2L671.5 218M669.5 192L669.5 218M666.5 159.4L666.5 174.2M663.2 173.2L644.2 172.4M663.2 174.2L644.2 173.4"/>
<circle cx="412.4" cy="159" r="0.7"/>
<circle cx="666.8" cy="159" r="0.7"/>
<path d="M412 164.5L412.8 164.5M412 168.5L412.8 168.5"/>
<path d="M667.2 164.5L666.4 164.5M667.2 168.5L666.4 168.5"/>
<path d="M413 203.5L425 203.5M413 206.5L425 206.5M414.4 209.5L425 209.5M425.5 203L425.5 214M413.5 198L413.5 214M411.5 198L411.5 214"/>
<path d="M666.2 203.5L654.2 203.5M666.2 206.5L654.2 206.5M664.8 209.5L654.2 209.5M654.5 203L654.5 214M666.5 198L666.5 214M667.5 198L667.5 214"/>
<path d="M540.6 137.2 540.6 216" stroke-width="1.6" stroke="#111"/>
<path d="M510.5 137.2L510.5 174.2M512.5 137.2L512.5 174.2"/>
<path d="M570.5 137.2L570.5 174.2M568.5 137.2L568.5 174.2"/>
<path d="M521.5 137.2L521.5 174.2M522.5 137.2L522.5 174.2"/>
<path d="M559.5 137.2L559.5 174.2M558.5 137.2L558.5 174.2"/>
<path d="M530.5 137.2L530.5 174.2M532.5 137.2L532.5 174.2"/>
<path d="M550.5 137.2L550.5 174.2M547.5 137.2L547.5 174.2"/>
<rect x="523.5" y="145.5" width="5" height="10"/>
<rect x="552.5" y="145.5" width="4" height="10"/>
<path d="M505 172C505 169 504.77 158.67 505 154C505.23 149.33 505.57 146.4 506.4 144C507.23 141.6 509.4 140.33 510 139.6"/>
<path d="M575.4 172C575.4 169 575.63 158.67 575.4 154C575.17 149.33 574.83 146.4 574 144C573.17 141.6 571 140.33 570.4 139.6"/>
<path d="M503.6 172 510 172"/>
<path d="M576.8 172 570.4 172"/>
<path d="M510 135 510 125 534 117.8 540.6 117.8"/>
<path d="M570.4 135 570.4 125 546.4 117.8 539.8 117.8"/>
<path d="M512 135 512 126.6 534 120 535 120"/>
<path d="M568.4 135 568.4 126.6 546.4 120 545.4 120"/>
<path d="M510 125.5L540.6 125.5M512 126.5L535 126.5M535.5 117.8L535.5 125M537.5 119.2L537.5 125M537 119.5L540.6 119.5"/>
<path d="M570.4 125.5L539.8 125.5M568.4 126.5L545.4 126.5M545.5 117.8L545.5 125M543.5 119.2L543.5 125M543.4 119.5L539.8 119.5"/>
<path d="M476.5 175L476.5 216"/>
<path d="M603.5 175L603.5 216"/>
<path d="M478.5 176.2L478.5 207M478.2 207.5L540.6 207.5M476.6 208.5L540.6 208.5"/>
<path d="M602.5 176.2L602.5 207M602.2 207.5L539.8 207.5M603.8 208.5L539.8 208.5"/>
<path d="M489.5 176.2L489.5 207M491.5 176.2L491.5 207"/>
<path d="M591.5 176.2L591.5 207M589.5 176.2L589.5 207"/>
<path d="M499.5 176.2L499.5 207M501.5 176.2L501.5 207"/>
<path d="M580.5 176.2L580.5 207M579.5 176.2L579.5 207"/>
<path d="M510.5 176.2L510.5 207M512.5 176.2L512.5 207"/>
<path d="M570.5 176.2L570.5 207M568.5 176.2L568.5 207"/>
<path d="M521.5 176.2L521.5 207M522.5 176.2L522.5 207"/>
<path d="M559.5 176.2L559.5 207M558.5 176.2L558.5 207"/>
<path d="M530.5 176.2L530.5 207M532.5 176.2L532.5 207"/>
<path d="M550.5 176.2L550.5 207M547.5 176.2L547.5 207"/>
<circle cx="483" cy="186.6" r="3.4" stroke-width="0.69" fill="#111"/>
<circle cx="597.4" cy="186.6" r="3.4" stroke-width="0.69" fill="#111"/>
<circle cx="483.8" cy="187.4" r="2.1" fill="#fff" stroke="none"/>
<circle cx="598.2" cy="187.4" r="2.1" fill="#fff" stroke="none"/>
<circle cx="505.6" cy="186.6" r="3.4" stroke-width="0.69" fill="#111"/>
<circle cx="574.8" cy="186.6" r="3.4" stroke-width="0.69" fill="#111"/>
<circle cx="506.4" cy="187.4" r="2.1" fill="#fff" stroke="none"/>
<circle cx="575.6" cy="187.4" r="2.1" fill="#fff" stroke="none"/>
<circle cx="526" cy="186.6" r="3.4" stroke-width="0.69" fill="#111"/>
<circle cx="554.4" cy="186.6" r="3.4" stroke-width="0.69" fill="#111"/>
<circle cx="526.8" cy="187.4" r="2.1" fill="#fff" stroke="none"/>
<circle cx="555.2" cy="187.4" r="2.1" fill="#fff" stroke="none"/>
<rect x="481.5" y="208.5" width="18" height="7" rx="3.2"/>
<rect x="581.5" y="208.5" width="18" height="7" rx="3.2"/>
<rect x="502.5" y="208.5" width="18" height="7" rx="3.2"/>
<rect x="560.5" y="208.5" width="18" height="7" rx="3.2"/>
<rect x="527.5" y="208.5" width="12" height="7" rx="3.2"/>
<rect x="541.5" y="208.5" width="12" height="7" rx="3.2"/>
<path d="M476.6 216.5L540.6 216.5M468 218.5L540.6 218.5M523.5 208L523.5 216M524.5 208L524.5 216M500.5 208L500.5 216M479.5 208L479.5 216"/>
<path d="M603.8 216.5L539.8 216.5M612.4 218.5L539.8 218.5M557.5 208L557.5 216M555.5 208L555.5 216M580.5 208L580.5 216M601.5 208L601.5 216"/>
<path d="M466 213.2 476.6 213.2 476.6 201.6Z"/>
<path d="M614.4 213.2 603.8 213.2 603.8 201.6Z"/>
<path d="M469.4 211.8 475.2 211.8 475.2 205.4Z"/>
<path d="M611 211.8 605.2 211.8 605.2 205.4Z"/>
<path d="M470.6 211.8L475.2 207M472.2 211.8L475.2 208.8" stroke-width="0.57"/>
<path d="M609.8 211.8L605.2 207M608.2 211.8L605.2 208.8" stroke-width="0.57"/>
<path d="M405.4 217 410.4 217 410.8 234 409.8 244 407.4 254 405.4 254Z" stroke-width="0.46" fill="#111" stroke="#111"/>
<path d="M673.4 217 668.4 217 668 234 669 244 671.4 254 673.4 254Z" stroke-width="0.46" fill="#111" stroke="#111"/>
<path d="M394.4 234.5L405.6 234.5M396 236.5L405.6 236.5M397.6 237.5L405.6 237.5M399.2 239.5L405.6 239.5M400.8 240.5L405.6 240.5"/>
<path d="M684.4 234.5L673.2 234.5M682.8 236.5L673.2 236.5M681.2 237.5L673.2 237.5M679.6 239.5L673.2 239.5M678 240.5L673.2 240.5"/>
<path d="M405.6 217C409.67 216.7 421.27 215.7 430 215.2C438.73 214.7 450 214.27 458 214C466 213.73 474.67 213.67 478 213.6"/>
<path d="M673.2 217C669.13 216.7 657.53 215.7 648.8 215.2C640.07 214.7 628.8 214.27 620.8 214C612.8 213.73 604.13 213.67 600.8 213.6"/>
<path d="M410.4 219C413.67 218.73 422.07 217.87 430 217.4C437.93 216.93 450 216.47 458 216.2C466 215.93 474.67 215.87 478 215.8"/>
<path d="M668.4 219C665.13 218.73 656.73 217.87 648.8 217.4C640.87 216.93 628.8 216.47 620.8 216.2C612.8 215.93 604.13 215.87 600.8 215.8"/>
<path d="M405.2 254.3C405.4 256.25 405.7 262.05 406.4 266C407.1 269.95 408.1 274.33 409.4 278C410.7 281.67 412.2 284.92 414.2 288C416.2 291.08 418.3 293.7 421.4 296.5C424.5 299.3 428.62 302.3 432.8 304.8C436.98 307.3 441.97 309.63 446.5 311.5C451.03 313.37 454.15 314.7 460 316C465.85 317.3 474.6 318.43 481.6 319.3C488.6 320.17 495.2 320.62 502 321.2C508.8 321.78 516.03 322.38 522.4 322.8C528.77 323.22 537.23 323.55 540.2 323.7"/>
<path d="M673.6 254.3C673.4 256.25 673.1 262.05 672.4 266C671.7 269.95 670.7 274.33 669.4 278C668.1 281.67 666.6 284.92 664.6 288C662.6 291.08 660.5 293.7 657.4 296.5C654.3 299.3 650.18 302.3 646 304.8C641.82 307.3 636.83 309.63 632.3 311.5C627.77 313.37 624.65 314.7 618.8 316C612.95 317.3 604.2 318.43 597.2 319.3C590.2 320.17 583.6 320.62 576.8 321.2C570 321.78 562.77 322.38 556.4 322.8C550.03 323.22 541.57 323.55 538.6 323.7"/>
<path d="M415.2 286.8C416.4 288.22 419.3 292.5 422.4 295.3C425.5 298.1 429.62 301.1 433.8 303.6C437.98 306.1 442.97 308.43 447.5 310.3C452.03 312.17 455.15 313.5 461 314.8C466.85 316.1 475.6 317.23 482.6 318.1C489.6 318.97 496.2 319.42 503 320C509.8 320.58 517.03 321.18 523.4 321.6C529.77 322.02 538.23 322.35 541.2 322.5" stroke-width="0.69"/>
<path d="M663.6 286.8C662.4 288.22 659.5 292.5 656.4 295.3C653.3 298.1 649.18 301.1 645 303.6C640.82 306.1 635.83 308.43 631.3 310.3C626.77 312.17 623.65 313.5 617.8 314.8C611.95 316.1 603.2 317.23 596.2 318.1C589.2 318.97 582.6 319.42 575.8 320C569 320.58 561.77 321.18 555.4 321.6C549.03 322.02 540.57 322.35 537.6 322.5" stroke-width="0.69"/>
<path d="M414.5 254.3C414.77 256.25 415.12 261.92 416.1 266C417.08 270.08 418.75 275.25 420.4 278.8C422.05 282.35 423.9 285.18 426 287.3C428.1 289.42 429.47 289.97 433 291.5C436.53 293.03 442.7 295.05 447.2 296.5C451.7 297.95 453.87 298.87 460 300.2C466.13 301.53 476 303.53 484 304.5C492 305.47 498.63 305.67 508 306C517.37 306.33 534.83 306.42 540.2 306.5"/>
<path d="M664.3 254.3C664.03 256.25 663.68 261.92 662.7 266C661.72 270.08 660.05 275.25 658.4 278.8C656.75 282.35 654.9 285.18 652.8 287.3C650.7 289.42 649.33 289.97 645.8 291.5C642.27 293.03 636.1 295.05 631.6 296.5C627.1 297.95 624.93 298.87 618.8 300.2C612.67 301.53 602.8 303.53 594.8 304.5C586.8 305.47 580.17 305.67 570.8 306C561.43 306.33 543.97 306.42 538.6 306.5"/>
<path d="M425.2 288.5C426.37 289.2 428.67 291.17 432.2 292.7C435.73 294.23 441.9 296.25 446.4 297.7C450.9 299.15 453.07 300.07 459.2 301.4C465.33 302.73 475.2 304.73 483.2 305.7C491.2 306.67 497.83 306.87 507.2 307.2C516.57 307.53 534.03 307.62 539.4 307.7" stroke-width="0.69"/>
<path d="M653.6 288.5C652.43 289.2 650.13 291.17 646.6 292.7C643.07 294.23 636.9 296.25 632.4 297.7C627.9 299.15 625.73 300.07 619.6 301.4C613.47 302.73 603.6 304.73 595.6 305.7C587.6 306.67 580.97 306.87 571.6 307.2C562.23 307.53 544.77 307.62 539.4 307.7" stroke-width="0.69"/>
<path d="M407.6 256.4C407.8 258.17 408.13 263.33 408.8 267C409.47 270.67 410.33 274.9 411.6 278.4C412.87 281.9 414.67 285.33 416.4 288C418.13 290.67 421.07 293.33 422 294.4" stroke-width="0.69"/>
<path d="M671.2 256.4C671 258.17 670.67 263.33 670 267C669.33 270.67 668.47 274.9 667.2 278.4C665.93 281.9 664.13 285.33 662.4 288C660.67 290.67 657.73 293.33 656.8 294.4" stroke-width="0.69"/>
<circle cx="411.4" cy="263.6" r="1.6"/>
<circle cx="667.4" cy="263.6" r="1.6"/>
<circle cx="413.4" cy="272.2" r="1.6"/>
<circle cx="665.4" cy="272.2" r="1.6"/>
<circle cx="416.4" cy="281" r="1.6"/>
<circle cx="662.4" cy="281" r="1.6"/>
<circle cx="421" cy="289" r="1.6"/>
<circle cx="657.8" cy="289" r="1.6"/>
<path d="M405.6 254L428 254.4M407.6 256.2L428 256.6M422 294.4L427.1 289.3M425.4 297.7L430.5 292.2M423.6 296L428.8 290.8M460 300.6L462.4 316M462.2 301.2L464.6 316.4M499.4 305.2L500.4 321M501.6 305.4L502.6 321.2M538.5 306.6L538.5 323.6"/>
<path d="M673.2 254L650.8 254.4M671.2 256.2L650.8 256.6M656.8 294.4L651.7 289.3M653.4 297.7L648.3 292.2M655.2 296L650 290.8M618.8 300.6L616.4 316M616.6 301.2L614.2 316.4M579.4 305.2L578.4 321M577.2 305.4L576.2 321.2M540.5 306.6L540.5 323.6"/>
<path d="M428.7 298.1 431.6 293.9 436.3 294.8 454.9 303.2 456.1 305.3 454.9 309.1 443.9 309.1 435 304.5Z"/>
<path d="M650.1 298.1 647.2 293.9 642.5 294.8 623.9 303.2 622.7 305.3 623.9 309.1 634.9 309.1 643.8 304.5Z"/>
<rect x="466.4" y="306" width="12" height="6.8" rx="3.4" transform="rotate(8 472.4 309.4)"/>
<rect x="600.4" y="306" width="12" height="6.8" rx="3.4" transform="rotate(-8 606.4 309.4)"/>
<rect x="483.8" y="307.6" width="12" height="6.8" rx="3.4" transform="rotate(6 489.8 311)"/>
<rect x="583" y="307.6" width="12" height="6.8" rx="3.4" transform="rotate(-6 589 311)"/>
<rect x="506.6" y="310.2" width="11.6" height="6.8" rx="3.4" transform="rotate(3 512.4 313.6)"/>
<rect x="560.6" y="310.2" width="11.6" height="6.8" rx="3.4" transform="rotate(-3 566.4 313.6)"/>
<rect x="523.6" y="310.8" width="11.6" height="6.8" rx="3.4" transform="rotate(2 529.4 314.2)"/>
<rect x="543.6" y="310.8" width="11.6" height="6.8" rx="3.4" transform="rotate(-2 549.4 314.2)"/>
<path d="M412.5 217.6L412.5 254.4M417.5 217.6L417.5 256M419.5 217.6L419.5 254.4M428.5 217L428.5 256.6M430.5 217L430.5 288"/>
<path d="M666.5 217.6L666.5 254.4M661.5 217.6L661.5 256M659.5 217.6L659.5 254.4M650.5 217L650.5 256.6M648.5 217L648.5 288"/>
<rect x="421.4" y="223.2" width="4.4" height="25.6" rx="2.2"/>
<rect x="653" y="223.2" width="4.4" height="25.6" rx="2.2"/>
<path d="M431 227C431.33 226.1 432 222.83 433 221.6C434 220.37 435.33 220.03 437 219.6C438.67 219.17 442 219.1 443 219"/>
<path d="M647.8 227C647.47 226.1 646.8 222.83 645.8 221.6C644.8 220.37 643.47 220.03 641.8 219.6C640.13 219.17 636.8 219.1 635.8 219"/>
<path d="M443 219L458 218.4M457.5 216L457.5 300M458.5 216L458.5 300.4"/>
<path d="M635.8 219L620.8 218.4M621.5 216L621.5 300M620.5 216L620.5 300.4"/>
<path d="M430.4 228.5L432 228.5M430.4 231.5L432 231.5M430.4 234.5L432 234.5M430.4 238.5L432 238.5M430.4 241.5L432 241.5M430.4 245.5L432 245.5M430.4 248.5L432 248.5M430.4 251.5L432 251.5M430.4 255.5L432 255.5M430.4 258.5L432 258.5M430.4 262.5L432 262.5M430.4 265.5L432 265.5M430.4 268.5L432 268.5M430.4 272.5L432 272.5M430.4 275.5L432 275.5M430.4 279.5L432 279.5M430.4 282.5L432 282.5M430.4 285.5L432 285.5" stroke-width="0.69"/>
<path d="M648.4 228.5L646.8 228.5M648.4 231.5L646.8 231.5M648.4 234.5L646.8 234.5M648.4 238.5L646.8 238.5M648.4 241.5L646.8 241.5M648.4 245.5L646.8 245.5M648.4 248.5L646.8 248.5M648.4 251.5L646.8 251.5M648.4 255.5L646.8 255.5M648.4 258.5L646.8 258.5M648.4 262.5L646.8 262.5M648.4 265.5L646.8 265.5M648.4 268.5L646.8 268.5M648.4 272.5L646.8 272.5M648.4 275.5L646.8 275.5M648.4 279.5L646.8 279.5M648.4 282.5L646.8 282.5M648.4 285.5L646.8 285.5" stroke-width="0.69"/>
<path d="M432 225.5L455 225.5M432 226.5L455 226.5" stroke-width="0.69"/>
<path d="M646.8 225.5L623.8 225.5M646.8 226.5L623.8 226.5" stroke-width="0.69"/>
<rect x="432.5" y="223.5" width="3" height="4" rx="1"/>
<rect x="643.5" y="223.5" width="3" height="4" rx="1"/>
<rect x="441.5" y="223.5" width="3" height="4" rx="1"/>
<rect x="634.5" y="223.5" width="3" height="4" rx="1"/>
<rect x="451.5" y="223.5" width="2" height="4" rx="1"/>
<rect x="625.5" y="223.5" width="2" height="4" rx="1"/>
<path d="M432 258.5L455 258.5M432 259.5L455 259.5" stroke-width="0.69"/>
<path d="M646.8 258.5L623.8 258.5M646.8 259.5L623.8 259.5" stroke-width="0.69"/>
<rect x="432.5" y="256.5" width="3" height="4" rx="1"/>
<rect x="643.5" y="256.5" width="3" height="4" rx="1"/>
<rect x="441.5" y="256.5" width="3" height="4" rx="1"/>
<rect x="634.5" y="256.5" width="3" height="4" rx="1"/>
<rect x="451.5" y="256.5" width="2" height="4" rx="1"/>
<rect x="625.5" y="256.5" width="2" height="4" rx="1"/>
<path d="M430 289 457 289"/>
<path d="M648.8 289 621.8 289"/>
<path d="M458.6 269C460 268.9 464.93 269.23 467 268.4C469.07 267.57 470.1 266.23 471 264C471.9 261.77 472.17 256.5 472.4 255"/>
<path d="M620.2 269C618.8 268.9 613.87 269.23 611.8 268.4C609.73 267.57 608.7 266.23 607.8 264C606.9 261.77 606.63 256.5 606.4 255"/>
<path d="M458.6 275C460.33 274.77 466.5 274.93 469 273.6C471.5 272.27 472.63 270.1 473.6 267C474.57 263.9 474.6 257 474.8 255"/>
<path d="M620.2 275C618.47 274.77 612.3 274.93 609.8 273.6C607.3 272.27 606.17 270.1 605.2 267C604.23 263.9 604.2 257 604 255"/>
<path d="M458.6 281C460.17 280.83 465.7 280.67 468 280C470.3 279.33 471.67 277.5 472.4 277"/>
<path d="M620.2 281C618.63 280.83 613.1 280.67 610.8 280C608.5 279.33 607.13 277.5 606.4 277"/>
<path d="M458.6 288C459.67 287.73 463.03 287.57 465 286.4C466.97 285.23 469.5 281.9 470.4 281"/>
<path d="M620.2 288C619.13 287.73 615.77 287.57 613.8 286.4C611.83 285.23 609.3 281.9 608.4 281"/>
<path d="M458.6 259L465 253.6M465 253.6L477 251.6M458.6 261.6L466 255.6M466 255.6L477 253.6"/>
<path d="M620.2 259L613.8 253.6M613.8 253.6L601.8 251.6M620.2 261.6L612.8 255.6M612.8 255.6L601.8 253.6"/>
<rect x="477.5" y="224.5" width="34" height="26"/>
<rect x="569.5" y="224.5" width="34" height="26"/>
<rect x="478.5" y="222.5" width="31" height="2"/>
<rect x="570.5" y="222.5" width="32" height="2"/>
<path d="M490.8 222.4a2.8 2.8 0 0 1 5.6 0"/>
<path d="M584 222.4a2.8 2.8 0 0 1 5.6 0"/>
<circle cx="471.6" cy="237.6" r="5.4" fill="#fff"/>
<circle cx="608.8" cy="237.6" r="5.4" fill="#fff"/>
<circle cx="477" cy="237.6" r="5" fill="#fff"/>
<circle cx="603.4" cy="237.6" r="5" fill="#fff"/>
<circle cx="510.6" cy="237.6" r="5" fill="#fff"/>
<circle cx="569.8" cy="237.6" r="5" fill="#fff"/>
<circle cx="516" cy="237.6" r="5.4" fill="#fff"/>
<circle cx="564.4" cy="237.6" r="5.4" fill="#fff"/>
<circle cx="477" cy="237.6" r="3"/>
<circle cx="603.4" cy="237.6" r="3"/>
<circle cx="477" cy="237.6" r="1.4"/>
<circle cx="603.4" cy="237.6" r="1.4"/>
<circle cx="510.6" cy="237.6" r="3"/>
<circle cx="569.8" cy="237.6" r="3"/>
<circle cx="510.6" cy="237.6" r="1.4"/>
<circle cx="569.8" cy="237.6" r="1.4"/>
<path d="M474.4 251.5L520 251.5M474.4 253.5L512 253.5M484 252L480 285M489 252L487.2 288M501 252L504 288M506 252L509.6 285M491.5 253.6L491.5 270.4M494.5 253.6L494.5 268M498.5 253.6L498.5 268M500.5 253.6L500.5 270.4M491 270.4L494 268M500 270.4L498 268M487.2 280.5L504 280.5"/>
<path d="M606 251.5L560.4 251.5M606 253.5L568.4 253.5M596.4 252L600.4 285M591.4 252L593.2 288M579.4 252L576.4 288M574.4 252L570.8 285M589.5 253.6L589.5 270.4M586.5 253.6L586.5 268M582.5 253.6L582.5 268M580.5 253.6L580.5 270.4M589.4 270.4L586.4 268M580.4 270.4L582.4 268M593.2 280.5L576.4 280.5"/>
<circle cx="493" cy="289.6" r="4.8"/>
<circle cx="587.4" cy="289.6" r="4.8"/>
<circle cx="493" cy="289.6" r="2.8"/>
<circle cx="587.4" cy="289.6" r="2.8"/>
<circle cx="493" cy="289.6" r="1.2"/>
<circle cx="587.4" cy="289.6" r="1.2"/>
<rect x="472.5" y="285.5" width="7" height="6"/>
<rect x="601.5" y="285.5" width="7" height="6"/>
<rect x="508.5" y="285.5" width="7" height="6"/>
<rect x="565.5" y="285.5" width="7" height="6"/>
<rect x="474.5" y="287.5" width="2" height="3"/>
<rect x="603.5" y="287.5" width="3" height="3"/>
<rect x="510.5" y="287.5" width="2" height="3"/>
<rect x="567.5" y="287.5" width="3" height="3"/>
<path d="M479.2 291.6C480.33 292.33 483.7 295 486 296C488.3 297 490.67 297.6 493 297.6C495.33 297.6 497.5 297 500 296C502.5 295 506.67 292.33 508 291.6"/>
<path d="M601.2 291.6C600.07 292.33 596.7 295 594.4 296C592.1 297 589.73 297.6 587.4 297.6C585.07 297.6 582.9 297 580.4 296C577.9 295 573.73 292.33 572.4 291.6"/>
<path d="M472.5 291.2L472.5 303M480.5 294L480.5 304M506.5 294L506.5 306M515.5 291.2L515.5 304M472 279.5L480 279.5M472.5 279L472.5 285M482 300L505 303.6"/>
<path d="M608.5 291.2L608.5 303M600.5 294L600.5 304M574.5 294L574.5 306M565.5 291.2L565.5 304M608.4 279.5L600.4 279.5M608.5 279L608.5 285M598.4 300L575.4 303.6"/>
<rect x="509.5" y="279.5" width="20" height="6"/>
<rect x="551.5" y="279.5" width="19" height="6"/>
<rect x="516.5" y="285.5" width="12" height="18"/>
<rect x="552.5" y="285.5" width="12" height="18"/>
<path d="M519.5 285.2L519.5 301M525.5 285.2L525.5 301M519.2 301.5L525.2 301.5" stroke-width="0.69"/>
<path d="M561.5 285.2L561.5 301M555.5 285.2L555.5 301M561.2 301.5L555.2 301.5" stroke-width="0.69"/>
<path d="M512 253.6C513.33 253.83 517.93 254.1 520 255C522.07 255.9 523.53 257.17 524.4 259C525.27 260.83 525.07 262.63 525.2 266C525.33 269.37 525.2 277 525.2 279.2"/>
<path d="M568.4 253.6C567.07 253.83 562.47 254.1 560.4 255C558.33 255.9 556.87 257.17 556 259C555.13 260.83 555.33 262.63 555.2 266C555.07 269.37 555.2 277 555.2 279.2"/>
<path d="M513 257.4C513.83 257.57 516.7 257.63 518 258.4C519.3 259.17 520.27 260.4 520.8 262C521.33 263.6 521.13 265.13 521.2 268C521.27 270.87 521.2 277.33 521.2 279.2"/>
<path d="M567.4 257.4C566.57 257.57 563.7 257.63 562.4 258.4C561.1 259.17 560.13 260.4 559.6 262C559.07 263.6 559.27 265.13 559.2 268C559.13 270.87 559.2 277.33 559.2 279.2"/>
<path d="M515.5 266L515.5 279.2M518.5 269L518.5 279.2"/>
<path d="M565.5 266L565.5 279.2M562.5 269L562.5 279.2"/>
<rect x="533.5" y="291.5" width="7" height="14"/>
<rect x="540.5" y="291.5" width="7" height="14"/>
<circle cx="540" cy="298.4" r="3.8"/>
<path d="M529.2 288.5L533.6 288.5M529.5 288L529.5 306"/>
<path d="M551.2 288.5L546.8 288.5M551.5 288L551.5 306"/>
</g>
<!-- draw_v -->
<g fill="none" stroke="#101010" stroke-width="0.92" stroke-linecap="butt" stroke-linejoin="miter">
<path d="M234.2 390L231.8 733" stroke-width="0.55" stroke-dasharray="9 2 1.5 2"/>
<path d="M213.1 412.6A20.5 12.2 0 0 1 254.1 412.6" stroke-width="1.3"/>
<path d="M215.8 412.6A17.8 10 0 0 1 251.4 412.6"/>
<path d="M223.6 411.6A10 6.8 0 0 1 243.6 411.6" stroke-width="1.3"/>
<path d="M213 412.5L233.6 412.5M214 414.5L233.6 414.5M211.6 415.5L233.6 415.5M211.6 417.5L233.6 417.5M211.5 415.6L211.5 417.6M228 419.5L233.6 419.5M228 421.5L233.6 421.5M228.5 419L228.5 421.6"/>
<path d="M254.2 412.5L233.6 412.5M253.2 414.5L233.6 414.5M255.6 415.5L233.6 415.5M255.6 417.5L233.6 417.5M255.5 415.6L255.5 417.6M239.2 419.5L233.6 419.5M239.2 421.5L233.6 421.5M239.5 419L239.5 421.6"/>
<path d="M213.5 417.6L213.5 442.4M215.5 420L215.5 441"/>
<path d="M253.5 417.6L253.5 442.4M252.5 420L252.5 441"/>
<path d="M213.6 442.4C215 447 228 444.6 253.6 441.6C258 443.5 240 446 214.8 448.4C212 450 226 452.6 253 448.4C257.5 450.6 240 452 214.6 452.4" />
<path d="M214 443.4C222 445.8 240 443.6 252.6 443.2M216 449.6C226 450.8 244 449.4 252.4 449.6" stroke-width="0.5"/>
<path d="M213.5 452.4L213.5 477.6M215.5 453.6L215.5 477.6"/>
<path d="M253.5 452.4L253.5 477.6M252.5 453.6L252.5 477.6"/>
<path d="M213.6 477.5L233.6 477.5M213.6 478.5L233.6 478.5M212.4 479.5L233.6 479.5M211.6 480.5L233.6 480.5M211.6 482.5L233.6 482.5M211.5 480.4L211.5 482.8"/>
<path d="M253.6 477.5L233.6 477.5M253.6 478.5L233.6 478.5M254.8 479.5L233.6 479.5M255.6 480.5L233.6 480.5M255.6 482.5L233.6 482.5M255.5 480.4L255.5 482.8"/>
<path d="M212.5 482.8L212.5 511.4M214.5 482.8L214.5 511.4"/>
<path d="M254.5 482.8L254.5 511.4M252.5 482.8L252.5 511.4"/>
<path d="M232.5 413.6L232.5 511.4M235.5 413.6L235.5 511.4"/>
<rect x="232.5" y="412.5" width="4" height="5"/>
<path d="M194 511.5L233.6 511.5M197 513.5L212.4 513.5"/>
<path d="M273.2 511.5L233.6 511.5M270.2 513.5L254.8 513.5"/>
<path d="M212.4 512.4C211.07 512.6 206.6 512.87 204.4 513.6C202.2 514.33 200.4 515.4 199.2 516.8C198 518.2 197.53 521.13 197.2 522"/>
<path d="M254.8 512.4C256.13 512.6 260.6 512.87 262.8 513.6C265 514.33 266.8 515.4 268 516.8C269.2 518.2 269.67 521.13 270 522"/>
<path d="M194.5 511.4L194.5 610M197.5 513L197.5 606"/>
<path d="M273.5 511.4L273.5 610M270.5 513L270.5 606"/>
<path d="M213.6 511.4L212.4 606.4M213.4 554.5L233.6 554.5"/>
<path d="M253.6 511.4L254.8 606.4M253.8 554.5L233.6 554.5"/>
<path d="M176 485.5L211.6 485.5M176 488.5L211.6 488.5M176.5 485.6L176.5 488"/>
<path d="M291.2 485.5L255.6 485.5M291.2 488.5L255.6 488.5M291.5 485.6L291.5 488"/>
<path d="M177.5 488L177.5 518M179.5 488L179.5 518M208.5 488L208.5 511.4M210.5 488L210.5 511.4"/>
<path d="M290.5 488L290.5 518M287.5 488L287.5 518M259.5 488L259.5 511.4M257.5 488L257.5 511.4"/>
<path d="M177 467 177 485.6" stroke-width="1.15"/>
<path d="M290.2 467 290.2 485.6" stroke-width="1.15"/>
<path d="M176.4 469.5L177.6 469.5M176.4 473.5L177.6 473.5" stroke-width="0.69"/>
<path d="M290.8 469.5L289.6 469.5M290.8 473.5L289.6 473.5" stroke-width="0.69"/>
<path d="M184 473 184 485.6" stroke-width="1.15"/>
<path d="M283.2 473 283.2 485.6" stroke-width="1.15"/>
<path d="M183.4 475.5L184.6 475.5M183.4 479.5L184.6 479.5" stroke-width="0.69"/>
<path d="M283.8 475.5L282.6 475.5M283.8 479.5L282.6 479.5" stroke-width="0.69"/>
<path d="M208.6 467 208.6 485.6" stroke-width="1.15"/>
<path d="M258.6 467 258.6 485.6" stroke-width="1.15"/>
<path d="M208 469.5L209.2 469.5M208 473.5L209.2 473.5" stroke-width="0.69"/>
<path d="M259.2 469.5L258 469.5M259.2 473.5L258 473.5" stroke-width="0.69"/>
<circle cx="187" cy="521" r="3.2"/>
<circle cx="280.2" cy="521" r="3.2"/>
<circle cx="187" cy="521" r="1.4"/>
<circle cx="280.2" cy="521" r="1.4"/>
<path d="M181 518L192 514.4M181.6 520L184 519M192.5 514.4L192.5 528M181.5 518L181.5 528"/>
<path d="M286.2 518L275.2 514.4M285.6 520L283.2 519M275.5 514.4L275.5 528M286.5 518L286.5 528"/>
<circle cx="107" cy="448" r="4"/>
<circle cx="360.2" cy="448" r="4"/>
<path d="M104 447.5L108.4 447.5M104 448.5L108.4 448.5"/>
<path d="M363.2 447.5L358.8 447.5M363.2 448.5L358.8 448.5"/>
<path d="M105.2 451.6C106.93 453.93 112.53 460.87 115.6 465.6C118.67 470.33 122.03 475.43 123.6 480C125.17 484.57 125.93 489.17 125 493C124.07 496.83 121.17 499.5 118 503C114.83 506.5 109.13 510.17 106 514C102.87 517.83 100.83 521.33 99.2 526C97.57 530.67 96.83 536.33 96.2 542C95.57 547.67 95.53 557 95.4 560"/>
<path d="M362 451.6C360.27 453.93 354.67 460.87 351.6 465.6C348.53 470.33 345.17 475.43 343.6 480C342.03 484.57 341.27 489.17 342.2 493C343.13 496.83 346.03 499.5 349.2 503C352.37 506.5 358.07 510.17 361.2 514C364.33 517.83 366.37 521.33 368 526C369.63 530.67 370.37 536.33 371 542C371.63 547.67 371.67 557 371.8 560"/>
<path d="M110.6 449.6C112.3 451.83 117.7 458.03 120.8 463C123.9 467.97 127.57 474.23 129.2 479.4C130.83 484.57 131.67 489.57 130.6 494C129.53 498.43 126.17 502.2 122.8 506C119.43 509.8 113.6 513.27 110.4 516.8C107.2 520.33 105.23 523 103.6 527.2C101.97 531.4 101.23 536.53 100.6 542C99.97 547.47 99.93 557 99.8 560"/>
<path d="M356.6 449.6C354.9 451.83 349.5 458.03 346.4 463C343.3 467.97 339.63 474.23 338 479.4C336.37 484.57 335.53 489.57 336.6 494C337.67 498.43 341.03 502.2 344.4 506C347.77 509.8 353.6 513.27 356.8 516.8C360 520.33 361.97 523 363.6 527.2C365.23 531.4 365.97 536.53 366.6 542C367.23 547.47 367.27 557 367.4 560"/>
<path d="M107 450.93C108.72 453.23 114.26 459.92 117.33 464.73C120.41 469.54 123.88 475.03 125.47 479.8C127.06 484.57 127.84 489.3 126.87 493.33C125.89 497.37 122.83 500.4 119.6 504C116.37 507.6 110.62 511.2 107.47 514.93C104.31 518.67 102.3 521.89 100.67 526.4C99.03 530.91 98.3 536.4 97.67 542C97.03 547.6 97 557 96.87 560" stroke-width="0.57"/>
<path d="M360.2 450.93C358.48 453.23 352.94 459.92 349.87 464.73C346.79 469.54 343.32 475.03 341.73 479.8C340.14 484.57 339.36 489.3 340.33 493.33C341.31 497.37 344.37 500.4 347.6 504C350.83 507.6 356.58 511.2 359.73 514.93C362.89 518.67 364.9 521.89 366.53 526.4C368.17 530.91 368.9 536.4 369.53 542C370.17 547.6 370.2 557 370.33 560" stroke-width="0.57"/>
<path d="M108.8 450.27C110.51 452.53 115.98 458.98 119.07 463.87C122.16 468.76 125.72 474.63 127.33 479.6C128.94 484.57 129.76 489.43 128.73 493.67C127.71 497.9 124.5 501.3 121.2 505C117.9 508.7 112.11 512.23 108.93 515.87C105.76 519.5 103.77 522.44 102.13 526.8C100.5 531.16 99.77 536.47 99.13 542C98.5 547.53 98.47 557 98.33 560" stroke-width="0.57"/>
<path d="M358.4 450.27C356.69 452.53 351.22 458.98 348.13 463.87C345.04 468.76 341.48 474.63 339.87 479.6C338.26 484.57 337.44 489.43 338.47 493.67C339.49 497.9 342.7 501.3 346 505C349.3 508.7 355.09 512.23 358.27 515.87C361.44 519.5 363.43 522.44 365.07 526.8C366.7 531.16 367.43 536.47 368.07 542C368.7 547.53 368.73 557 368.87 560" stroke-width="0.57"/>
<rect x="95.5" y="558.5" width="5" height="3" rx="0.8"/>
<rect x="367.5" y="558.5" width="5" height="3" rx="0.8"/>
<path d="M121.6 459L124 457.6M126.6 470L129.2 469M130.4 481L133 480.4M131.2 488.5L133.6 488.5"/>
<path d="M345.6 459L343.2 457.6M340.6 470L338 469M336.8 481L334.2 480.4M336 488.5L333.6 488.5"/>
<path d="M110.6 449 187 519.6" stroke-width="0.8"/>
<path d="M356.6 449 280.2 519.6" stroke-width="0.8"/>
<path d="M103 452 103 480.4" stroke-width="0.8"/>
<path d="M364.2 452 364.2 480.4" stroke-width="0.8"/>
<path d="M86 480C86.27 481.67 86.33 486.83 87.6 490C88.87 493.17 91 496.9 93.6 499C96.2 501.1 99.97 502.6 103.2 502.6C106.43 502.6 110.33 501.1 113 499C115.67 496.9 117.87 493.17 119.2 490C120.53 486.83 120.7 481.67 121 480"/>
<path d="M381.2 480C380.93 481.67 380.87 486.83 379.6 490C378.33 493.17 376.2 496.9 373.6 499C371 501.1 367.23 502.6 364 502.6C360.77 502.6 356.87 501.1 354.2 499C351.53 496.9 349.33 493.17 348 490C346.67 486.83 346.5 481.67 346.2 480"/>
<path d="M86 480.5L121 480.5M86.8 481.5L120.2 481.5"/>
<path d="M381.2 480.5L346.2 480.5M380.4 481.5L347 481.5"/>
<path d="M93.5 502L93.5 509.6M112.5 502L112.5 509.6M91 509.5L114.4 509.5M94.4 503.2L103.2 508M103.2 508L111.4 503.2M94.4 505.6L103.2 509.6M103.2 509.6L111.4 505.6"/>
<path d="M374.5 502L374.5 509.6M354.5 502L354.5 509.6M376.2 509.5L352.8 509.5M372.8 503.2L364 508M364 508L355.8 503.2M372.8 505.6L364 509.6M364 509.6L355.8 505.6"/>
<path d="M84 511.5L138 511.5M85.2 512.5L137 512.5M84 511.2L85.2 512.6M85.2 512.6L100 523.6M89.2 512.6L102 521.2"/>
<path d="M383.2 511.5L329.2 511.5M382 512.5L330.2 512.5M383.2 511.2L382 512.6M382 512.6L367.2 523.6M378 512.6L365.2 521.2"/>
<ellipse cx="129" cy="509.6" rx="1" ry="9.2" transform="rotate(3 129 509.6)"/>
<ellipse cx="338.2" cy="509.6" rx="1" ry="9.2" transform="rotate(-3 338.2 509.6)"/>
<path d="M124 511.5L134 511.5" stroke-width="1.38"/>
<path d="M343.2 511.5L333.2 511.5" stroke-width="1.38"/>
<path d="M121.6 514C121.6 515.17 121.13 519.07 121.6 521C122.07 522.93 123.27 524.57 124.4 525.6C125.53 526.63 127.73 526.93 128.4 527.2"/>
<path d="M345.6 514C345.6 515.17 346.07 519.07 345.6 521C345.13 522.93 343.93 524.57 342.8 525.6C341.67 526.63 339.47 526.93 338.8 527.2"/>
<path d="M124 514C124 515 123.6 518.4 124 520C124.4 521.6 125.4 522.73 126.4 523.6C127.4 524.47 129.4 524.93 130 525.2"/>
<path d="M343.2 514C343.2 515 343.6 518.4 343.2 520C342.8 521.6 341.8 522.73 340.8 523.6C339.8 524.47 337.8 524.93 337.2 525.2"/>
<path d="M103 528L182 525.2M103.6 530L182 527.2"/>
<path d="M361.4 528L282.4 525.2M360.8 530L282.4 527.2"/>
<path d="M128.5 527.22L128.5 528.91M129.5 527.15L129.5 528.85M131.5 527.09L131.5 528.79M133.5 527.02L133.5 528.72M135.5 526.96L135.5 528.66M137.5 526.9L137.5 528.6M138.5 526.83L138.5 528.53M140.5 526.77L140.5 528.47M142.5 526.71L142.5 528.41M144.5 526.64L144.5 528.34M146.5 526.58L146.5 528.28M147.5 526.51L147.5 528.21M149.5 526.45L149.5 528.15M151.5 526.39L151.5 528.09M153.5 526.32L153.5 528.02M155.5 526.26L155.5 527.96M156.5 526.2L156.5 527.9M158.5 526.13L158.5 527.83M160.5 526.07L160.5 527.77M162.5 526L162.5 527.7M164.5 525.94L164.5 527.64M165.5 525.88L165.5 527.58M167.5 525.81L167.5 527.51M169.5 525.75L169.5 527.45M171.5 525.69L171.5 527.39M173.5 525.62L173.5 527.32M174.5 525.56L174.5 527.26M176.5 525.49L176.5 527.19" stroke-width="0.57"/>
<path d="M336.5 527.22L336.5 528.91M334.5 527.15L334.5 528.85M332.5 527.09L332.5 528.79M331.5 527.02L331.5 528.72M329.5 526.96L329.5 528.66M327.5 526.9L327.5 528.6M325.5 526.83L325.5 528.53M323.5 526.77L323.5 528.47M322.5 526.71L322.5 528.41M320.5 526.64L320.5 528.34M318.5 526.58L318.5 528.28M316.5 526.51L316.5 528.21M314.5 526.45L314.5 528.15M313.5 526.39L313.5 528.09M311.5 526.32L311.5 528.02M309.5 526.26L309.5 527.96M307.5 526.2L307.5 527.9M305.5 526.13L305.5 527.83M304.5 526.07L304.5 527.77M302.5 526L302.5 527.7M300.5 525.94L300.5 527.64M298.5 525.88L298.5 527.58M296.5 525.81L296.5 527.51M295.5 525.75L295.5 527.45M293.5 525.69L293.5 527.39M291.5 525.62L291.5 527.32M289.5 525.56L289.5 527.26M287.5 525.49L287.5 527.19" stroke-width="0.57"/>
<path d="M103 528.4 98 574"/>
<path d="M361.4 528.4 366.4 574"/>
<path d="M102 574C102.6 568 104.67 544.83 105.6 538C106.53 531.17 106.03 534.13 107.6 533C109.17 531.87 113.77 531.5 115 531.2"/>
<path d="M362.4 574C361.8 568 359.73 544.83 358.8 538C357.87 531.17 358.37 534.13 356.8 533C355.23 531.87 350.63 531.5 349.4 531.2"/>
<path d="M115 531.2 178 528.8"/>
<path d="M349.4 531.2 286.4 528.8"/>
<path d="M186 524.4 144 567" stroke-width="0.8"/>
<path d="M281.2 524.4 323.2 567" stroke-width="0.8"/>
<path d="M158.4 554.4 150.4 562.6" stroke-width="2.2" stroke="#444"/>
<path d="M308.8 554.4 316.8 562.6" stroke-width="2.2" stroke="#444"/>
<path d="M177.5 518L177.5 566M180.5 530L180.5 566"/>
<path d="M289.5 518L289.5 566M286.5 530L286.5 566"/>
<path d="M98 571L196 566M98.4 573.6L196 568.6" stroke-width="1.15"/>
<path d="M366.4 571L268.4 566M366 573.6L268.4 568.6" stroke-width="1.15"/>
<path d="M143 567.2L161 566.4" stroke-width="1.6"/>
<path d="M321.4 567.2L303.4 566.4" stroke-width="1.6"/>
<path d="M98 573.6C97.8 577 97.13 587.27 96.8 594C96.47 600.73 96.13 610.67 96 614"/>
<path d="M366.6 573.6C366.8 577 367.47 587.27 367.8 594C368.13 600.73 368.47 610.67 368.6 614"/>
<path d="M101.6 574.4C101.4 577.67 100.67 587.67 100.4 594C100.13 600.33 100.07 609.33 100 612.4"/>
<path d="M363 574.4C363.2 577.67 363.93 587.67 364.2 594C364.47 600.33 364.53 609.33 364.6 612.4"/>
<path d="M101.6 586C101.73 584.83 101.67 580.83 102.4 579C103.13 577.17 104.4 575.9 106 575C107.6 574.1 111 573.83 112 573.6"/>
<path d="M363 586C362.87 584.83 362.93 580.83 362.2 579C361.47 577.17 360.2 575.9 358.6 575C357 574.1 353.6 573.83 352.6 573.6"/>
<path d="M95.4 614 100 613.6 100 636 98.4 651 96 651.6Z" stroke-width="0.46" fill="#111" stroke="#111"/>
<path d="M369.2 614 364.6 613.6 364.6 636 366.2 651 368.6 651.6Z" stroke-width="0.46" fill="#111" stroke="#111"/>
<path d="M79 630.5L95.6 630.5M81.6 632.5L95.6 632.5M84.4 634.5L95.6 634.5M87 636.5L95.8 636.5M89.6 639.5L96 639.5"/>
<path d="M385.6 630.5L369 630.5M383 632.5L369 632.5M380.2 634.5L369 634.5M377.6 636.5L368.8 636.5M375 639.5L368.6 639.5"/>
<path d="M97 612.4L195 609M100 615L193 611.6" stroke-width="1.15"/>
<path d="M367.6 612.4L269.6 609M364.6 615L271.6 611.6" stroke-width="1.15"/>
<path d="M100 590.4L147 589.2M100 593L147 592"/>
<path d="M117.5 573.2L117.5 687.2M119.5 573.2L119.5 688.4M133.5 572.4L133.5 694.8M135.5 572.4L135.5 695.6"/>
<path d="M147.5 571.6L147.5 706M149.5 571.6L149.5 706.4"/>
<path d="M317.5 571.6L317.5 706M315.5 571.6L315.5 706.4"/>
<path d="M149.5 572.4L149.5 609M158.5 572L158.5 608.6"/>
<path d="M315.5 572.4L315.5 609M306.5 572L306.5 608.6"/>
<path d="M149.6 575.5L158 575.5M149.6 578.5L158 578.5M149.6 582.5L158 582.5M149.6 586.5L158 586.5M149.6 590.5L158 590.5M149.6 594.5L158 594.5M149.6 597.5L158 597.5M149.6 601.5L158 601.5M149.6 605.5L158 605.5"/>
<path d="M315 575.5L306.6 575.5M315 578.5L306.6 578.5M315 582.5L306.6 582.5M315 586.5L306.6 586.5M315 590.5L306.6 590.5M315 594.5L306.6 594.5M315 597.5L306.6 597.5M315 601.5L306.6 601.5M315 605.5L306.6 605.5"/>
<path d="M149.6 576.5L158 576.5M149.6 580.5L158 580.5M149.6 584.5L158 584.5M149.6 587.5L158 587.5M149.6 591.5L158 591.5M149.6 595.5L158 595.5M149.6 599.5L158 599.5M149.6 603.5L158 603.5M149.6 606.5L158 606.5"/>
<path d="M315 576.5L306.6 576.5M315 580.5L306.6 580.5M315 584.5L306.6 584.5M315 587.5L306.6 587.5M315 591.5L306.6 591.5M315 595.5L306.6 595.5M315 599.5L306.6 599.5M315 603.5L306.6 603.5M315 606.5L306.6 606.5"/>
<path d="M103.5 614.4L103.5 651M106.5 614.4L106.5 651"/>
<rect x="107.2" y="630.4" width="7.6" height="13.6" rx="3.8"/>
<path d="M120 624C120.17 623.07 120.27 619.8 121 618.4C121.73 617 122.9 616.2 124.4 615.6C125.9 615 129.07 614.93 130 614.8"/>
<path d="M120 630.5L147 630.5M120 632.5L147 632.5M107.5 652.4L107.5 692.4M109.5 652.4L109.5 690.4"/>
<path d="M96 651L147 650M96.4 652.4L147 651.6M98 670.5L147 670.5M98.8 673.5L147 673.5"/>
<path d="M319 572.4C325.5 572.47 350.77 572.13 358 572.8C365.23 573.47 361.4 574.53 362.4 576.4C363.4 578.27 363.67 580.07 364 584C364.33 587.93 364.33 597.33 364.4 600"/>
<path d="M364.4 599L353 609M345.5 613.6L345.5 651M347.5 613.6L347.5 651M354.5 613.6L354.5 651M358.5 613.6L358.5 651M360.5 613.6L360.5 651"/>
<rect x="348" y="620" width="4.8" height="24" rx="2.4"/>
<path d="M337 615C337.77 615.5 340.5 616.77 341.6 618C342.7 619.23 343.2 620.73 343.6 622.4C344 624.07 343.93 627.07 344 628"/>
<path d="M319 615.5L337 615.5M343.5 628L343.5 688M344.5 628L344.5 685.6M319 650.4L369 651.2M319 652.2L368 653M319 670.5L343 670.5M319 672.5L343 672.5M319 650.4L322 648M343 650.4L340 648M319 672.2L322 675M343 672.2L340 675"/>
<path d="M354 652.4C353.87 655 354.13 662.73 353.2 668C352.27 673.27 351.1 679.33 348.4 684C345.7 688.67 341.73 692.6 337 696C332.27 699.4 322.83 703 320 704.4"/>
<path d="M356 652.4C355.87 655.07 356.13 662.93 355.2 668.4C354.27 673.87 353.2 680.27 350.4 685.2C347.6 690.13 343.47 694.43 338.4 698C333.33 701.57 323.07 705.17 320 706.6" stroke-width="0.57"/>
<circle cx="361.4" cy="658" r="1.6"/>
<circle cx="360.6" cy="668" r="1.6"/>
<circle cx="358" cy="677.6" r="1.6"/>
<circle cx="354" cy="686.4" r="1.6"/>
<path d="M320 707.6 324.4 701 343 692.4 348 695.6 342 704.4 326 710.4Z"/>
<path d="M348 688L354 694.4M346.4 690L352.4 696.4"/>
<path d="M95.1 652.6C95.22 654.17 95.38 659.05 95.8 662C96.22 664.95 96.57 666.8 97.6 670.3C98.63 673.8 100.1 678.78 102 683C103.9 687.22 106.15 692.02 109 695.6C111.85 699.18 115.52 701.97 119.1 704.5C122.68 707.03 126.07 709.02 130.5 710.8C134.93 712.58 139.78 714.02 145.7 715.2C151.62 716.38 158.9 717.2 166 717.9C173.1 718.6 177.23 718.82 188.3 719.4C199.37 719.98 225.05 721.07 232.4 721.4"/>
<path d="M369.5 652.6C369.38 654.17 369.22 659.05 368.8 662C368.38 664.95 368.03 666.8 367 670.3C365.97 673.8 364.5 678.78 362.6 683C360.7 687.22 358.45 692.02 355.6 695.6C352.75 699.18 349.08 701.97 345.5 704.5C341.92 707.03 338.53 709.02 334.1 710.8C329.67 712.58 324.82 714.02 318.9 715.2C312.98 716.38 305.7 717.2 298.6 717.9C291.5 718.6 287.37 718.82 276.3 719.4C265.23 719.98 239.55 721.07 232.2 721.4"/>
<path d="M103.2 681.6C104.37 683.7 107.35 690.62 110.2 694.2C113.05 697.78 116.72 700.57 120.3 703.1C123.88 705.63 127.27 707.62 131.7 709.4C136.13 711.18 140.98 712.62 146.9 713.8C152.82 714.98 160.1 715.8 167.2 716.5C174.3 717.2 178.43 717.42 189.5 718C200.57 718.58 226.25 719.67 233.6 720" stroke-width="0.8"/>
<path d="M361.4 681.6C360.23 683.7 357.25 690.62 354.4 694.2C351.55 697.78 347.88 700.57 344.3 703.1C340.72 705.63 337.33 707.62 332.9 709.4C328.47 711.18 323.62 712.62 317.7 713.8C311.78 714.98 304.5 715.8 297.4 716.5C290.3 717.2 286.17 717.42 275.1 718C264.03 718.58 238.35 719.67 231 720" stroke-width="0.8"/>
<path d="M112.8 683C113.85 683.95 116.15 686.92 119.1 688.7C122.05 690.48 126.07 692.02 130.5 693.7C134.93 695.38 142.53 697.63 145.7 698.8C148.87 699.97 146.12 700 149.5 700.7C152.88 701.4 159.58 702.28 166 703C172.42 703.72 176.93 704.5 188 705C199.07 705.5 225 705.83 232.4 706"/>
<path d="M112.2 684.4C113.25 685.35 115.55 688.32 118.5 690.1C121.45 691.88 125.47 693.42 129.9 695.1C134.33 696.78 141.93 699.03 145.1 700.2C148.27 701.37 145.52 701.4 148.9 702.1C152.28 702.8 158.98 703.68 165.4 704.4C171.82 705.12 176.33 705.9 187.4 706.4C198.47 706.9 224.4 707.23 231.8 707.4" stroke-width="0.57"/>
<g transform="translate(464.6 0) scale(-1 1)">
<path d="M145.7 698.8C146.33 699.12 146.12 700 149.5 700.7C152.88 701.4 159.58 702.28 166 703C172.42 703.72 176.93 704.5 188 705C199.07 705.5 225 705.83 232.4 706"/>
<path d="M145.1 700.2C145.73 700.52 145.52 701.4 148.9 702.1C152.28 702.8 158.98 703.68 165.4 704.4C171.82 705.12 176.33 705.9 187.4 706.4C198.47 706.9 224.4 707.23 231.8 707.4" stroke-width="0.57"/>
</g>
<path d="M98.4 651.6C98.53 653.67 98.6 659.6 99.2 664C99.8 668.4 100.53 673.67 102 678C103.47 682.33 107 688 108 690"/>
<path d="M114.4 685L105.6 693.6M117.2 687.2L108.4 696.4M112.8 681.6L120 686.4M111.2 683.6L118.6 688.6"/>
<path d="M105.8 695C105.63 695.9 105.43 698.7 104.8 700.4C104.17 702.1 102.47 704.4 102 705.2"/>
<path d="M358.8 695C358.97 695.9 359.17 698.7 359.8 700.4C360.43 702.1 362.13 704.4 362.6 705.2"/>
<path d="M102 705.2C102.8 704.87 105.3 703.93 106.8 703.2C108.3 702.47 110.3 701.2 111 700.8"/>
<path d="M362.6 705.2C361.8 704.87 359.3 703.93 357.8 703.2C356.3 702.47 354.3 701.2 353.6 700.8"/>
<path d="M145.6 699.2L144.4 715.2M148.4 700L147.2 716M188.5 705.4L188.5 719.4M190.5 705.6L190.5 719.6"/>
<path d="M319 699.2L320.2 715.2M316.2 700L317.4 716M276.5 705.4L276.5 719.4M274.5 705.6L274.5 719.6"/>
<path d="M151 702.4 186 705.6 186 718 150 716Z"/>
<path d="M313.6 702.4 278.6 705.6 278.6 718 314.6 716Z"/>
<circle cx="156" cy="693" r="4.4"/>
<circle cx="308.6" cy="693" r="4.4"/>
<path d="M149 683.5L158 683.5M149 684.5L159 684.5"/>
<path d="M315.6 683.5L306.6 683.5M315.6 684.5L305.6 684.5"/>
<circle cx="178.6" cy="601.6" r="3"/>
<circle cx="286" cy="601.6" r="3"/>
<path d="M174 602.5L192 602.5M174 604.5L192 604.5M192.5 601L192.5 607M193.5 601L193.5 607" stroke-width="1.15"/>
<path d="M290.6 602.5L272.6 602.5M290.6 604.5L272.6 604.5M272.5 601L272.5 607M271.5 601L271.5 607" stroke-width="1.15"/>
<path d="M197 609L160 639.6"/>
<path d="M267.6 609L304.6 639.6"/>
<path d="M160 639.6C159.27 641 156.53 644.6 155.6 648C154.67 651.4 154.07 655.33 154.4 660C154.73 664.67 155.33 671 157.6 676C159.87 681 163.6 686.33 168 690C172.4 693.67 178.67 696.67 184 698C189.33 699.33 195 699.67 200 698C205 696.33 210.07 692 214 688C217.93 684 221.6 678.67 223.6 674C225.6 669.33 226.6 663.93 226 660C225.4 656.07 221 652 220 650.4"/>
<path d="M304.6 639.6C305.33 641 308.07 644.6 309 648C309.93 651.4 310.53 655.33 310.2 660C309.87 664.67 309.27 671 307 676C304.73 681 301 686.33 296.6 690C292.2 693.67 285.93 696.67 280.6 698C275.27 699.33 269.6 699.67 264.6 698C259.6 696.33 254.53 692 250.6 688C246.67 684 243 678.67 241 674C239 669.33 238 663.93 238.6 660C239.2 656.07 243.6 652 244.6 650.4"/>
<path d="M161.2 651C160.53 652.5 157.4 655.83 157.2 660C157 664.17 157.87 671.33 160 676C162.13 680.67 165.67 684.73 170 688C174.33 691.27 181 694.4 186 695.6C191 696.8 195.6 696.8 200 695.2C204.4 693.6 208.9 689.7 212.4 686C215.9 682.3 219.2 677.33 221 673C222.8 668.67 222.83 662.17 223.2 660" stroke-width="0.57"/>
<path d="M303.4 651C304.07 652.5 307.2 655.83 307.4 660C307.6 664.17 306.73 671.33 304.6 676C302.47 680.67 298.93 684.73 294.6 688C290.27 691.27 283.6 694.4 278.6 695.6C273.6 696.8 269 696.8 264.6 695.2C260.2 693.6 255.7 689.7 252.2 686C248.7 682.3 245.4 677.33 243.6 673C241.8 668.67 241.77 662.17 241.4 660" stroke-width="0.57"/>
<path d="M212.4 606C211.73 608 209.67 614.53 208.4 618C207.13 621.47 206.2 624.97 204.8 626.8C203.4 628.63 202.47 628.87 200 629C197.53 629.13 193.5 627.43 190 627.6C186.5 627.77 182.83 628.17 179 630C175.17 631.83 170.1 635.6 167 638.6C163.9 641.6 161.83 644.43 160.4 648C158.97 651.57 158.73 658 158.4 660"/>
<path d="M252.2 606C252.87 608 254.93 614.53 256.2 618C257.47 621.47 258.4 624.97 259.8 626.8C261.2 628.63 262.13 628.87 264.6 629C267.07 629.13 271.1 627.43 274.6 627.6C278.1 627.77 281.77 628.17 285.6 630C289.43 631.83 294.5 635.6 297.6 638.6C300.7 641.6 302.77 644.43 304.2 648C305.63 651.57 305.87 658 306.2 660"/>
<path d="M160 650.5L220 650.5M212.4 592.5L233.6 592.5"/>
<path d="M304.6 650.5L244.6 650.5M252.2 592.5L231 592.5"/>
<path d="M220 650.4C220.2 649.17 220.03 644.87 221.2 643C222.37 641.13 224.93 639.93 227 639.2C229.07 638.47 232.5 638.7 233.6 638.6"/>
<path d="M244.6 650.4C244.4 649.17 244.57 644.87 243.4 643C242.23 641.13 239.67 639.93 237.6 639.2C235.53 638.47 232.1 638.7 231 638.6"/>
<circle cx="172.4" cy="677" r="8.6"/>
<circle cx="292.2" cy="677" r="8.6"/>
<circle cx="172.4" cy="677" r="6.6"/>
<circle cx="292.2" cy="677" r="6.6"/>
<circle cx="189.6" cy="686.4" r="8.6"/>
<circle cx="275" cy="686.4" r="8.6"/>
<circle cx="189.6" cy="686.4" r="6.6"/>
<circle cx="275" cy="686.4" r="6.6"/>
<circle cx="208" cy="677" r="8.6"/>
<circle cx="256.6" cy="677" r="8.6"/>
<circle cx="208" cy="677" r="6.6"/>
<circle cx="256.6" cy="677" r="6.6"/>
<path d="M182 670.5L198 670.5M188.4 669.5L191.2 669.5"/>
<path d="M282.6 670.5L266.6 670.5M276.2 669.5L273.4 669.5"/>
<path d="M189.6 618V702M277.6 618V702M160 663H307" stroke-width="0.5" stroke-dasharray="7 2 1.5 2"/>
<circle cx="222.4" cy="698" r="4.4"/>
<circle cx="242.2" cy="698" r="4.4"/>
<rect x="217.5" y="683.5" width="8" height="6"/>
<rect x="239.5" y="683.5" width="8" height="6"/>
<path d="M214 691.5L233.6 691.5M200.5 698L200.5 704.4M203.5 698L203.5 704.4M176.5 698L176.5 702.4M179.5 698L179.5 702.4"/>
<path d="M250.6 691.5L231 691.5M264.5 698L264.5 704.4M261.5 698L261.5 704.4M288.5 698L288.5 702.4M285.5 698L285.5 702.4"/>
<rect x="191.5" y="707.5" width="38" height="11" rx="1"/>
<rect x="235.5" y="707.5" width="38" height="11" rx="1"/>
<path d="M189.5 705L189.5 720M231.5 705.6L231.5 722.4"/>
<path d="M275.5 705L275.5 720M233.5 705.6L233.5 722.4"/>
<rect x="238.6" y="710.2" width="10.8" height="6.8" rx="3.4" transform="rotate(-3 244 713.6)"/>
<rect x="257.6" y="709" width="10.8" height="6.8" rx="3.4" transform="rotate(-5 263 712.4)"/>
<rect x="279" y="707.6" width="10.8" height="6.8" rx="3.4" transform="rotate(-7 284.4 711)"/>
<rect x="298.4" y="706" width="9.6" height="6" rx="3" transform="rotate(-10 303.2 709)"/>
<circle cx="287" cy="593" r="3"/>
</g>
<!-- draw_g -->
<g fill="none" stroke="#101010" stroke-width="0.92" stroke-linecap="butt" stroke-linejoin="miter">
<path d="M525.8 497L522.9 727" stroke-width="0.55" stroke-dasharray="9 2 1.5 2"/>
<rect x="471.88" y="515.65" width="4.63" height="39.67" fill="#111" stroke="none"/>
<rect x="572.89" y="515.65" width="4.63" height="39.67" fill="#111" stroke="none"/>
<rect x="474.01" y="555.33" width="2.5" height="54.82" fill="#111" stroke="none"/>
<rect x="572.89" y="555.33" width="2.5" height="54.82" fill="#111" stroke="none"/>
<path d="M472.51 516.28C472.82 515.9 473.14 514.69 474.39 514.02C475.64 513.36 476.79 512.81 480.02 512.27C483.25 511.73 486.32 511.04 493.79 510.77C501.25 510.5 519.65 510.67 524.82 510.64" stroke-width="1.5" stroke="#111"/>
<path d="M576.89 516.28C576.58 515.9 576.26 514.69 575.01 514.02C573.76 513.36 572.61 512.81 569.38 512.27C566.15 511.73 563.08 511.04 555.61 510.77C548.15 510.5 529.75 510.67 524.58 510.64" stroke-width="1.5" stroke="#111"/>
<path d="M477.27 519.41C477.47 518.93 477.64 517.26 478.52 516.53C479.39 515.8 479.77 515.44 482.52 515.03C485.28 514.61 487.99 514.23 495.04 514.02C502.09 513.82 519.86 513.82 524.82 513.77"/>
<path d="M572.13 519.41C571.93 518.93 571.76 517.26 570.88 516.53C570.01 515.8 569.63 515.44 566.88 515.03C564.12 514.61 561.41 514.23 554.36 514.02C547.31 513.82 529.54 513.82 524.58 513.77"/>
<path d="M477.27 519.41 477.27 547.57"/>
<path d="M572.13 519.41 572.13 547.57"/>
<path d="M492.5 511.27L492.5 513.77M494.5 511.27L494.5 513.77" stroke-width="0.69"/>
<path d="M556.5 511.27L556.5 513.77M554.5 511.27L554.5 513.77" stroke-width="0.69"/>
<path d="M545.4 510.6v-3a9 9 0 0 1 18 0v3M545.4 507.4h18"/>
<path d="M552.4 504.2h4.4" stroke-width="1.2"/>
<rect x="501.5" y="519.5" width="18" height="17" rx="5.26"/>
<rect x="530.5" y="519.5" width="17" height="17" rx="5.26"/>
<circle cx="510.68" cy="528.54" r="6.88"/>
<circle cx="538.72" cy="528.54" r="6.88"/>
<circle cx="510.68" cy="528.54" r="5.26" stroke-width="1.5"/>
<circle cx="538.72" cy="528.54" r="5.26" stroke-width="1.5"/>
<circle cx="510.68" cy="528.54" r="2.75"/>
<circle cx="538.72" cy="528.54" r="2.75"/>
<circle cx="510.68" cy="528.54" r="1.25"/>
<circle cx="538.72" cy="528.54" r="1.25"/>
<rect x="508.5" y="537.5" width="4" height="5"/>
<rect x="536.5" y="537.5" width="4" height="5"/>
<rect x="506.5" y="542.5" width="8" height="19" rx="1.5"/>
<rect x="534.5" y="542.5" width="8" height="19" rx="1.5"/>
<path d="M508.18 544.5L513.31 544.5M508.18 559.5L513.31 559.5" stroke-width="0.69"/>
<path d="M541.22 544.5L536.09 544.5M541.22 559.5L536.09 559.5" stroke-width="0.69"/>
<path d="M509.5 561.33L509.5 575.1M511.5 561.33L511.5 575.1M507.55 563.5L514.06 563.5M507.5 563.21L507.5 561.33M514.5 563.21L514.5 561.33"/>
<path d="M539.5 561.33L539.5 575.1M537.5 561.33L537.5 575.1M541.85 563.5L535.34 563.5M541.5 563.21L541.5 561.33M535.5 563.21L535.5 561.33"/>
<circle cx="502.3" cy="537.3" r="1.38"/>
<circle cx="547.1" cy="537.3" r="1.38"/>
<path d="M500.67 536.3C500.57 537.76 500.04 541.93 500.04 545.06C500.04 548.19 500.04 552.15 500.67 555.08C501.3 558 503.11 560.08 503.8 562.58C504.49 565.09 504.63 568.84 504.8 570.09"/>
<path d="M548.73 536.3C548.83 537.76 549.36 541.93 549.36 545.06C549.36 548.19 549.36 552.15 548.73 555.08C548.1 558 546.29 560.08 545.6 562.58C544.91 565.09 544.77 568.84 544.6 570.09"/>
<path d="M502.55 538.8C502.46 540.26 502 544.85 502.05 547.57C502.09 550.28 502.25 552.57 502.8 555.08C503.34 557.58 504.72 560.08 505.3 562.58C505.88 565.09 506.13 568.84 506.3 570.09"/>
<path d="M546.85 538.8C546.94 540.26 547.4 544.85 547.35 547.57C547.31 550.28 547.15 552.57 546.6 555.08C546.06 557.58 544.68 560.08 544.1 562.58C543.52 565.09 543.27 568.84 543.1 570.09"/>
<path d="M519.07 536.3C518.92 538.18 518.55 543.6 518.19 547.57C517.84 551.53 517.25 556.33 516.94 560.08C516.63 563.84 516.42 568.43 516.31 570.09"/>
<path d="M530.33 536.3C530.48 538.18 530.85 543.6 531.21 547.57C531.56 551.53 532.15 556.33 532.46 560.08C532.77 563.84 532.98 568.43 533.09 570.09"/>
<rect x="486.5" y="517.5" width="3" height="3"/>
<rect x="559.5" y="517.5" width="3" height="3"/>
<rect x="495.5" y="516.5" width="3" height="4"/>
<rect x="550.5" y="516.5" width="4" height="4"/>
<path d="M487.28 520.28L486.53 532.55M488.78 520.28L489.53 532.55M496.04 520.28L495.04 532.55M497.79 520.28L499.04 532.55"/>
<path d="M562.12 520.28L562.87 532.55M560.62 520.28L559.87 532.55M553.36 520.28L554.36 532.55M551.61 520.28L550.36 532.55"/>
<rect x="486.5" y="532.5" width="13" height="14"/>
<rect x="549.5" y="532.5" width="14" height="14"/>
<path d="M490.5 532.55L490.5 546.31M495.5 532.55L495.5 546.31M490.03 536.5L495.66 536.5M490.03 540.5L495.66 540.5"/>
<path d="M559.5 532.55L559.5 546.31M553.5 532.55L553.5 546.31M559.37 536.5L553.74 536.5M559.37 540.5L553.74 540.5"/>
<circle cx="480.02" cy="528.79" r="1.5"/>
<circle cx="569.38" cy="528.79" r="1.5"/>
<path d="M479.27 530.29L478.52 545.06M480.77 530.29L480.52 545.06M482.5 523.16L482.5 535.05M482.27 523.5L483.52 523.5"/>
<path d="M570.13 530.29L570.88 545.06M568.63 530.29L568.88 545.06M566.5 523.16L566.5 535.05M567.13 523.5L565.88 523.5"/>
<rect x="476.5" y="547.5" width="22" height="9"/>
<rect x="550.5" y="547.5" width="22" height="9"/>
<path d="M498.79 548.82L501.3 551.32M501.5 551.32L501.5 557.58M476.89 557.5L501.3 557.5"/>
<path d="M550.61 548.82L548.1 551.32M548.5 551.32L548.5 557.58M572.51 557.5L548.1 557.5"/>
<path d="M517.5 513.77L517.5 644.56M519.5 513.77L519.5 644.56M521.5 513.77L521.5 644.56"/>
<path d="M531.5 513.77L531.5 644.56M529.5 513.77L529.5 644.56M527.5 513.77L527.5 644.56"/>
<path d="M478.14 558.83L491.28 585.11M476.51 558.5L501.3 558.5M478.5 557.58L478.5 585.11M480.5 560.08L480.5 585.11M487.5 558.83L487.5 576.35M490.5 558.83L490.5 576.35M476.51 577.5L518.82 577.5M490.03 575.5L517.57 575.5M487.53 580.5L517.57 580.5M476.51 585.5L517.57 585.5M498.5 561.33L498.5 575.1M500.5 561.33L500.5 575.1M490.5 580.11L490.5 585.11M497.5 580.11L497.5 585.11M501.5 580.11L501.5 585.11M506.3 580.11L505.05 585.11"/>
<path d="M571.26 558.83L558.12 585.11M572.89 558.5L548.1 558.5M570.5 557.58L570.5 585.11M568.5 560.08L568.5 585.11M561.5 558.83L561.5 576.35M559.5 558.83L559.5 576.35M572.89 577.5L530.58 577.5M559.37 575.5L531.83 575.5M561.87 580.5L531.83 580.5M572.89 585.5L531.83 585.5M550.5 561.33L550.5 575.1M548.5 561.33L548.5 575.1M559.5 580.11L559.5 585.11M551.5 580.11L551.5 585.11M548.5 580.11L548.5 585.11M543.1 580.11L544.35 585.11"/>
<rect x="498.5" y="571.5" width="5" height="5"/>
<rect x="545.5" y="571.5" width="5" height="5"/>
<path d="M481.5 582.61L481.5 621.41M483.5 582.61L483.5 627.67M485.5 586.36L485.5 626.41M493.5 585.11L493.5 623.91M495.5 585.11L495.5 623.91M505.5 585.11L505.5 644.56M506.5 585.11L506.5 644.56M508.5 585.11L508.5 644.56M486.28 586.36L493.79 595.13M486.28 586.5L493.79 586.5"/>
<path d="M568.5 582.61L568.5 621.41M565.5 582.61L565.5 627.67M563.5 586.36L563.5 626.41M556.5 585.11L556.5 623.91M553.5 585.11L553.5 623.91M544.5 585.11L544.5 644.56M542.5 585.11L542.5 644.56M541.5 585.11L541.5 644.56M563.12 586.36L555.61 595.13M563.12 586.5L555.61 586.5"/>
<path d="M483.77 621.29C483.77 622.33 483.46 625.77 483.77 627.55C484.09 629.32 484.71 630.88 485.65 631.93C486.59 632.97 487.63 633.49 489.41 633.8C491.18 634.12 495.14 633.8 496.29 633.8"/>
<path d="M562.63 621.29C562.63 622.33 562.94 625.77 562.63 627.55C562.31 629.32 561.69 630.88 560.75 631.93C559.81 632.97 558.77 633.49 556.99 633.8C555.22 634.12 551.26 633.8 550.11 633.8"/>
<path d="M485.65 621.29C485.67 622.17 485.5 625.04 485.78 626.55C486.05 628.05 486.57 629.4 487.28 630.3C487.99 631.2 488.53 631.66 490.03 631.93C491.53 632.2 495.25 631.93 496.29 631.93"/>
<path d="M560.75 621.29C560.73 622.17 560.9 625.04 560.62 626.55C560.35 628.05 559.83 629.4 559.12 630.3C558.41 631.2 557.87 631.66 556.37 631.93C554.87 632.2 551.15 631.93 550.11 631.93"/>
<rect x="491.5" y="622.5" width="8" height="5"/>
<rect x="547.5" y="622.5" width="8" height="5"/>
<rect x="494.5" y="627.5" width="4" height="13"/>
<rect x="548.5" y="627.5" width="4" height="13"/>
<path d="M499.04 623.5L504.8 623.5M499.04 625.5L502.55 625.5M501.5 626.3L501.5 643.19M499.5 627.55L499.5 643.19"/>
<path d="M547.36 623.5L541.6 623.5M547.36 625.5L543.85 625.5M545.5 626.3L545.5 643.19M546.5 627.55L546.5 643.19"/>
<path d="M478.77 648.82C479.08 648.2 479.6 646.03 480.64 645.07C481.69 644.11 483.15 643.48 485.03 643.07C486.9 642.65 489.61 642.65 491.91 642.57C494.2 642.48 497.64 642.57 498.79 642.57"/>
<path d="M567.63 648.82C567.32 648.2 566.8 646.03 565.76 645.07C564.71 644.11 563.25 643.48 561.37 643.07C559.5 642.65 556.79 642.65 554.49 642.57C552.2 642.48 548.76 642.57 547.61 642.57"/>
<path d="M479.77 650.83C480.12 650.12 480.81 647.61 481.9 646.57C482.98 645.53 484.5 644.99 486.28 644.57C488.05 644.15 490.45 644.15 492.53 644.07C494.62 643.98 497.75 644.07 498.79 644.07"/>
<path d="M566.63 650.83C566.28 650.12 565.59 647.61 564.5 646.57C563.42 645.53 561.9 644.99 560.12 644.57C558.35 644.15 555.95 644.15 553.87 644.07C551.78 643.98 548.65 644.07 547.61 644.07"/>
<rect x="498.5" y="643.5" width="49" height="43"/>
<rect x="500.5" y="645.5" width="45" height="40"/>
<rect x="512.5" y="651.5" width="21" height="31"/>
<path d="M508.8 665.5L536.59 665.5M508.8 669.5L536.59 669.5"/>
<circle cx="508.8" cy="663.59" r="3.5" fill="#fff"/>
<circle cx="508.8" cy="671.35" r="3.5" fill="#fff"/>
<circle cx="536.59" cy="663.59" r="3.5" fill="#fff"/>
<circle cx="536.59" cy="671.35" r="3.5" fill="#fff"/>
<rect x="520.5" y="652.5" width="4" height="3" rx="1" fill="#ddd"/>
<rect x="520.5" y="662.5" width="4" height="2" rx="1" fill="#ddd"/>
<rect x="520.5" y="670.5" width="4" height="3" rx="1" fill="#ddd"/>
<rect x="520.5" y="679.5" width="4" height="2" rx="1" fill="#ddd"/>
<path d="M521.5 651.95L521.5 682.62M523.5 651.95L523.5 682.62" stroke-width="0.69"/>
<path d="M465 686.5L580.39 686.5M478.27 688.5L567.13 688.5"/>
<path d="M414 567.2L473 566M405 569.2L473.6 568"/>
<path d="M632.6 567.2L573.6 566M641.6 569.2L573 568"/>
<path d="M415.5 567.27L415.5 568.97M417.5 567.23L417.5 568.93M419.5 567.2L419.5 568.9M421.5 567.16L421.5 568.86M422.5 567.12L422.5 568.82M424.5 567.09L424.5 568.79M426.5 567.05L426.5 568.75M428.5 567.02L428.5 568.72M430.5 566.98L430.5 568.68M431.5 566.94L431.5 568.64M433.5 566.91L433.5 568.61M435.5 566.87L435.5 568.57M437.5 566.84L437.5 568.54M439.5 566.8L439.5 568.5M440.5 566.76L440.5 568.46M442.5 566.73L442.5 568.43M444.5 566.69L444.5 568.39M446.5 566.66L446.5 568.36M448.5 566.62L448.5 568.32M449.5 566.58L449.5 568.28M451.5 566.55L451.5 568.25M453.5 566.51L453.5 568.21M455.5 566.48L455.5 568.18M457.5 566.44L457.5 568.14M458.5 566.4L458.5 568.1M460.5 566.37L460.5 568.07M462.5 566.33L462.5 568.03M464.5 566.3L464.5 568M466.5 566.26L466.5 567.96M467.5 566.22L467.5 567.92M469.5 566.19L469.5 567.89M471.5 566.15L471.5 567.85" stroke-width="0.57"/>
<path d="M630.5 567.27L630.5 568.97M629.5 567.23L629.5 568.93M627.5 567.2L627.5 568.9M625.5 567.16L625.5 568.86M623.5 567.12L623.5 568.82M621.5 567.09L621.5 568.79M620.5 567.05L620.5 568.75M618.5 567.02L618.5 568.72M616.5 566.98L616.5 568.68M614.5 566.94L614.5 568.64M612.5 566.91L612.5 568.61M611.5 566.87L611.5 568.57M609.5 566.84L609.5 568.54M607.5 566.8L607.5 568.5M605.5 566.76L605.5 568.46M603.5 566.73L603.5 568.43M602.5 566.69L602.5 568.39M600.5 566.66L600.5 568.36M598.5 566.62L598.5 568.32M596.5 566.58L596.5 568.28M594.5 566.55L594.5 568.25M593.5 566.51L593.5 568.21M591.5 566.48L591.5 568.18M589.5 566.44L589.5 568.14M587.5 566.4L587.5 568.1M585.5 566.37L585.5 568.07M584.5 566.33L584.5 568.03M582.5 566.3L582.5 568M580.5 566.26L580.5 567.96M578.5 566.22L578.5 567.92M576.5 566.19L576.5 567.89M575.5 566.15L575.5 567.85" stroke-width="0.57"/>
<rect x="471.5" y="564.5" width="3" height="4"/>
<rect x="572.5" y="564.5" width="2" height="4"/>
<path d="M405.5 569.2L405.5 611.2M409.5 550L409.5 567.2"/>
<path d="M641.5 569.2L641.5 611.2M637.5 550L637.5 567.2"/>
<path d="M408.8 554.5L410 554.5M408.8 559.5L410 559.5" stroke-width="0.69"/>
<path d="M637.8 554.5L636.6 554.5M637.8 559.5L636.6 559.5" stroke-width="0.69"/>
<path d="M409 586C409.1 584.67 408.93 580.17 409.6 578C410.27 575.83 411.27 574.13 413 573C414.73 571.87 418.83 571.5 420 571.2"/>
<path d="M637.6 586C637.5 584.67 637.67 580.17 637 578C636.33 575.83 635.33 574.13 633.6 573C631.87 571.87 627.77 571.5 626.6 571.2"/>
<path d="M420 571.2L473 570M409.5 586L409.5 610M473.5 570L473.5 609"/>
<path d="M626.6 571.2L573.6 570M637.5 586L637.5 610M573.5 570L573.5 609"/>
<rect x="410.5" y="591.5" width="33" height="17"/>
<rect x="603.5" y="591.5" width="33" height="17"/>
<path d="M415.5 592L415.5 607.6M417.5 592L417.5 607.6M420.5 592L420.5 607.6M422.5 592L422.5 607.6M425.5 592L425.5 607.6M427.5 592L427.5 607.6M429.5 592L429.5 607.6M432.5 592L432.5 607.6M434.5 592L434.5 607.6M437.5 592L437.5 607.6M439.5 592L439.5 607.6M441.5 592L441.5 607.6"/>
<path d="M631.5 592L631.5 607.6M628.5 592L628.5 607.6M626.5 592L626.5 607.6M623.5 592L623.5 607.6M621.5 592L621.5 607.6M619.5 592L619.5 607.6M616.5 592L616.5 607.6M614.5 592L614.5 607.6M611.5 592L611.5 607.6M609.5 592L609.5 607.6M607.5 592L607.5 607.6M604.5 592L604.5 607.6"/>
<path d="M410 608.5L443 608.5" stroke-width="1.4"/>
<path d="M636.6 608.5L603.6 608.5" stroke-width="1.4"/>
<path d="M405 609.6L476.4 609.2M405.6 611.6L476.4 611.2" stroke-width="1.15"/>
<path d="M641.6 609.6L570.2 609.2M641 611.6L570.2 611.2" stroke-width="1.15"/>
<path d="M406 611.6 409.4 611.6 413.6 649.6 410.8 651.6Z" stroke-width="0.46" fill="#111" stroke="#111"/>
<path d="M640.6 611.6 637.2 611.6 633 649.6 635.8 651.6Z" stroke-width="0.46" fill="#111" stroke="#111"/>
<path d="M411.6 612.4L416 648M413.6 612.4L418 647.2M426.5 612.4L426.5 644M429.5 612.4L429.5 643"/>
<path d="M635 612.4L630.6 648M633 612.4L628.6 647.2M620.5 612.4L620.5 644M617.5 612.4L617.5 643"/>
<path d="M411.6 650.4L428 644.4M412.4 652.4L429 646.4M414 651L415.6 648.4M417 650L418.6 647.4M420 648.8L421.6 646.2M423 647.8L424.6 645.2" stroke-width="0.69"/>
<path d="M635 650.4L618.6 644.4M634.2 652.4L617.6 646.4M632.6 651L631 648.4M629.6 650L628 647.4M626.6 648.8L625 646.2M623.6 647.8L622 645.2" stroke-width="0.69"/>
<path d="M390 630.5L407.6 630.5M393.6 632.5L408 632.5M397.2 634.5L408.4 634.5M400.8 637.5L408.8 637.5M404.4 639.5L409.2 639.5"/>
<path d="M656.6 630.5L639 630.5M653 632.5L638.6 632.5M649.4 634.5L638.2 634.5M645.8 637.5L637.8 637.5M642.2 639.5L637.4 639.5"/>
<path d="M431 630C431.1 628.67 431.03 624.17 431.6 622C432.17 619.83 432.83 618.17 434.4 617C435.97 615.83 439.9 615.33 441 615"/>
<path d="M615.6 630C615.5 628.67 615.57 624.17 615 622C614.43 619.83 613.77 618.17 612.2 617C610.63 615.83 606.7 615.33 605.6 615"/>
<path d="M441 615L467 614.4M431.5 630L431.5 644M467 614.4L473 621"/>
<path d="M605.6 615L579.6 614.4M615.5 630L615.5 644M579.6 614.4L573.6 621"/>
<circle cx="444" cy="635.4" r="3.6"/>
<circle cx="444" cy="643.2" r="3.6"/>
<path d="M429 637.5L440.4 637.5M429 639.5L440.4 639.5M429 644.5L440.4 644.5M429 645.5L440.4 645.5M446.4 636.5L449.6 636.5M446.4 644.5L449.6 644.5" stroke-width="1.15"/>
<path d="M473 642L467 649"/>
<path d="M573.6 642L579.6 649"/>
<path d="M428 650.5L478 650.5M427 652.5L478 652.5" stroke-width="1.15"/>
<path d="M618.6 650.5L568.6 650.5M619.6 652.5L568.6 652.5" stroke-width="1.15"/>
<path d="M411.6 650.4C412.07 652.17 413.17 657.57 414.4 661C415.63 664.43 416.4 666.5 419 671C421.6 675.5 424.83 682.77 430 688C435.17 693.23 443.33 698.53 450 702.4C456.67 706.27 463.33 708.73 470 711.2C476.67 713.67 483.33 715.7 490 717.2C496.67 718.7 504.27 719.5 510 720.2C515.73 720.9 522 721.2 524.4 721.4"/>
<path d="M635 650.4C634.53 652.17 633.43 657.57 632.2 661C630.97 664.43 630.2 666.5 627.6 671C625 675.5 621.77 682.77 616.6 688C611.43 693.23 603.27 698.53 596.6 702.4C589.93 706.27 583.27 708.73 576.6 711.2C569.93 713.67 563.27 715.7 556.6 717.2C549.93 718.7 542.33 719.5 536.6 720.2C530.87 720.9 524.6 721.2 522.2 721.4"/>
<path d="M415.6 659.6C416.37 661.27 417.6 665.1 420.2 669.6C422.8 674.1 426.03 681.37 431.2 686.6C436.37 691.83 444.53 697.13 451.2 701C457.87 704.87 464.53 707.33 471.2 709.8C477.87 712.27 484.53 714.3 491.2 715.8C497.87 717.3 505.47 718.1 511.2 718.8C516.93 719.5 523.2 719.8 525.6 720" stroke-width="0.57"/>
<path d="M631 659.6C630.23 661.27 629 665.1 626.4 669.6C623.8 674.1 620.57 681.37 615.4 686.6C610.23 691.83 602.07 697.13 595.4 701C588.73 704.87 582.07 707.33 575.4 709.8C568.73 712.27 562.07 714.3 555.4 715.8C548.73 717.3 541.13 718.1 535.4 718.8C529.67 719.5 523.4 719.8 521 720" stroke-width="0.57"/>
<path d="M426 654C426.5 655.33 427.17 658.5 429 662C430.83 665.5 433.83 671.17 437 675C440.17 678.83 444.17 682.07 448 685C451.83 687.93 455.33 690.1 460 692.6C464.67 695.1 471 698.1 476 700C481 701.9 484.33 702.8 490 704C495.67 705.2 504.27 706.5 510 707.2C515.73 707.9 522 708.03 524.4 708.2"/>
<path d="M620.6 654C620.1 655.33 619.43 658.5 617.6 662C615.77 665.5 612.77 671.17 609.6 675C606.43 678.83 602.43 682.07 598.6 685C594.77 687.93 591.27 690.1 586.6 692.6C581.93 695.1 575.6 698.1 570.6 700C565.6 701.9 562.27 702.8 556.6 704C550.93 705.2 542.33 706.5 536.6 707.2C530.87 707.9 524.6 708.03 522.2 708.2"/>
<path d="M428 663.4C429.33 665.57 432.83 672.57 436 676.4C439.17 680.23 443.17 683.47 447 686.4C450.83 689.33 454.33 691.5 459 694C463.67 696.5 470 699.5 475 701.4C480 703.3 483.33 704.2 489 705.4C494.67 706.6 503.27 707.9 509 708.6C514.73 709.3 521 709.43 523.4 709.6" stroke-width="0.57"/>
<path d="M618.6 663.4C617.27 665.57 613.77 672.57 610.6 676.4C607.43 680.23 603.43 683.47 599.6 686.4C595.77 689.33 592.27 691.5 587.6 694C582.93 696.5 576.6 699.5 571.6 701.4C566.6 703.3 563.27 704.2 557.6 705.4C551.93 706.6 543.33 707.9 537.6 708.6C531.87 709.3 525.6 709.43 523.2 709.6" stroke-width="0.57"/>
<path d="M432.4 670.4L422.4 677M434.4 672.4L424.4 679.2M456 691L450 702.4M458.4 692.2L452.4 703.6M488.4 703.6L483.6 715.6M490.8 704.2L486 716.4M522.5 708L522.5 721.2"/>
<path d="M614.2 670.4L624.2 677M612.2 672.4L622.2 679.2M590.6 691L596.6 702.4M588.2 692.2L594.2 703.6M558.2 703.6L563 715.6M555.8 704.2L560.6 716.4M524.5 708L524.5 721.2"/>
<path d="M429.5 654L429.5 665M438.5 654L438.5 676M440.5 654L440.5 677.6M447.6 670.5L472 670.5M449.6 672.5L472 672.5M447.5 670L447.5 685M449.5 672.4L449.5 686M472.5 611L472.5 694M473.5 611L473.5 695.2M475.5 611L475.5 696M478.5 611L478.5 697.2M429 654L438 664M472 688L467 694"/>
<path d="M617.5 654L617.5 665M608.5 654L608.5 676M606.5 654L606.5 677.6M599 670.5L574.6 670.5M597 672.5L574.6 672.5M598.5 670L598.5 685M596.5 672.4L596.5 686M574.5 611L574.5 694M572.5 611L572.5 695.2M570.5 611L570.5 696M568.5 611L568.5 697.2M617.6 654L608.6 664M574.6 688L579.6 694"/>
</g>
<text x="117.2" y="33.9" font-family="'Liberation Serif','DejaVu Serif',serif" font-size="17.6" font-weight="bold" fill="#484848" stroke="#484848" stroke-width="1.5" stroke-linejoin="miter" textLength="95.5" lengthAdjust="spacingAndGlyphs">СТАПЕЛЬ</text>
<text x="117.2" y="44.8" font-family="'Liberation Sans','DejaVu Sans',sans-serif" font-size="11.2" fill="#333" textLength="33" lengthAdjust="spacingAndGlyphs">выпуск</text>
<text x="155.6" y="45.4" font-family="'Liberation Sans','DejaVu Sans',sans-serif" font-size="13.4" fill="#333">5</text>
<text x="44.7" y="320" font-family="'Liberation Sans','DejaVu Sans',sans-serif" font-size="14.4" font-weight="bold" fill="#111" stroke="#111" stroke-width="0.5" text-anchor="middle" textLength="13" lengthAdjust="spacingAndGlyphs">24</text>
<text x="87.3" y="78.1" font-family="'Liberation Sans','DejaVu Sans',sans-serif" font-size="9.4" font-weight="bold" fill="#222" text-anchor="middle">а</text>
<text x="414.6" y="76.9" font-family="'Liberation Sans','DejaVu Sans',sans-serif" font-size="10.6" font-weight="bold" fill="#222" text-anchor="middle">б</text>
<text x="87.3" y="408.9" font-family="'Liberation Sans','DejaVu Sans',sans-serif" font-size="8.2" font-weight="bold" fill="#222" text-anchor="middle">в</text>
<text x="411.7" y="408.5" font-family="'Liberation Sans','DejaVu Sans',sans-serif" font-size="8.6" font-weight="bold" fill="#222" text-anchor="middle">г</text>
<text x="115.4" y="779" font-family="'Liberation Sans','DejaVu Sans',sans-serif" font-size="7.9" fill="#262626" textLength="483.8" lengthAdjust="spacingAndGlyphs" xml:space="preserve"><tspan font-weight="bold">Броненосец береговой обороны «Генерал-адмирал Апраксин». Поперечные сечения: а — по 57 шп., б — по 45 шп.,</tspan></text>
<text x="151.6" y="789.9" font-family="'Liberation Sans','DejaVu Sans',sans-serif" font-size="7.9" fill="#262626" textLength="410.9" lengthAdjust="spacingAndGlyphs" xml:space="preserve"><tspan font-weight="bold">в — по мидель-шпангоуту, г — по 19 шп. Масштаб 1:200 </tspan><tspan fill="#333">(РГАВМФ. Ф.876. Оп.39. Д.68, 66, 65, 63)</tspan></text>
<text x="85.6" y="801.1" font-family="'Liberation Sans','DejaVu Sans',sans-serif" font-size="7.9" fill="#262626" textLength="542.8" lengthAdjust="spacingAndGlyphs" xml:space="preserve"><tspan font-weight="bold">Coastal battleship «General-Admiral Apraksin». Cross sections:  frame 57 — (а);   frame 45 — (б);  middle frame — (в);  frame 19 — (г);</tspan></text>
<text x="237" y="812.6" font-family="'Liberation Sans','DejaVu Sans',sans-serif" font-size="7.9" fill="#262626" textLength="243" lengthAdjust="spacingAndGlyphs" xml:space="preserve"><tspan font-weight="bold">scale 1:200 </tspan><tspan fill="#333">(materials of the Russian State Naval Archives funds)</tspan></text>
<text x="77.6" y="850" font-family="'Liberation Sans','DejaVu Sans',sans-serif" font-size="15.6" font-weight="bold" fill="#1a1a1a" textLength="50.5" lengthAdjust="spacingAndGlyphs">Глава 3</text>
</svg>
</body>
</html>
